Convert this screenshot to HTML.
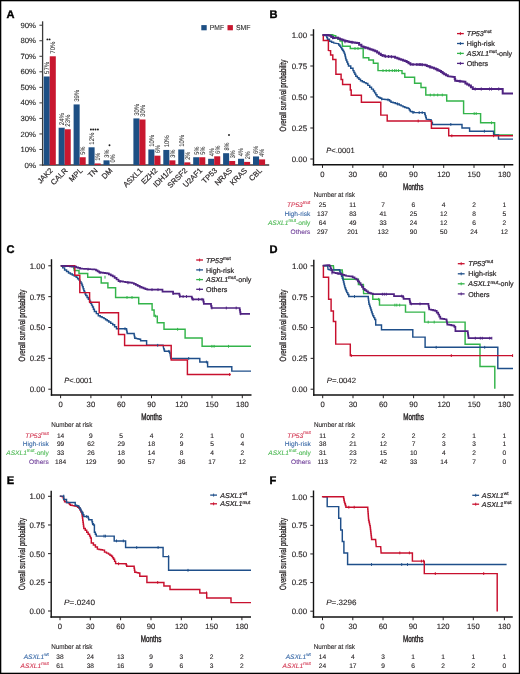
<!DOCTYPE html>
<html><head><meta charset="utf-8"><style>
html,body{margin:0;padding:0;background:#fff;width:520px;height:674px;overflow:hidden;}
svg{display:block;will-change:transform;text-rendering:geometricPrecision;font-family:"Liberation Sans", sans-serif;}
</style></head><body>
<svg width="520" height="674" viewBox="0 0 520 674" font-family="Liberation Sans, sans-serif">
<rect x="0" y="0" width="520" height="674" fill="#000"/>
<rect x="1.3" y="1.3" width="517.5" height="671.4" fill="#fff"/>
<text x="6.6" y="17.5" font-size="11.1" fill="#000" font-weight="bold" stroke="#000" stroke-width="0.35">A</text>
<text x="269.5" y="17.5" font-size="11.1" fill="#000" font-weight="bold" stroke="#000" stroke-width="0.35">B</text>
<text x="6.6" y="253.3" font-size="11.1" fill="#000" font-weight="bold" stroke="#000" stroke-width="0.35">C</text>
<text x="269.5" y="253.3" font-size="11.1" fill="#000" font-weight="bold" stroke="#000" stroke-width="0.35">D</text>
<text x="6.8" y="483.9" font-size="11.1" fill="#000" font-weight="bold" stroke="#000" stroke-width="0.35">E</text>
<text x="269.5" y="483.9" font-size="11.1" fill="#000" font-weight="bold" stroke="#000" stroke-width="0.35">F</text>
<line x1="42.6" y1="21.3" x2="42.6" y2="165.6" stroke="#3a3a3a" stroke-width="1.3"/>
<line x1="42" y1="165" x2="269.2" y2="165" stroke="#3a3a3a" stroke-width="1.3"/>
<line x1="39.4" y1="165" x2="42.6" y2="165" stroke="#3a3a3a" stroke-width="1"/>
<text x="35.9" y="167.6" font-size="7.5" fill="#222" text-anchor="end" textLength="11.4" lengthAdjust="spacingAndGlyphs" stroke="#222" stroke-width="0.1">0%</text>
<line x1="39.4" y1="149.47" x2="42.6" y2="149.47" stroke="#3a3a3a" stroke-width="1"/>
<text x="35.9" y="152.07" font-size="7.5" fill="#222" text-anchor="end" textLength="15.5" lengthAdjust="spacingAndGlyphs" stroke="#222" stroke-width="0.1">10%</text>
<line x1="39.4" y1="133.94" x2="42.6" y2="133.94" stroke="#3a3a3a" stroke-width="1"/>
<text x="35.9" y="136.54" font-size="7.5" fill="#222" text-anchor="end" textLength="15.5" lengthAdjust="spacingAndGlyphs" stroke="#222" stroke-width="0.1">20%</text>
<line x1="39.4" y1="118.41" x2="42.6" y2="118.41" stroke="#3a3a3a" stroke-width="1"/>
<text x="35.9" y="121.01" font-size="7.5" fill="#222" text-anchor="end" textLength="15.5" lengthAdjust="spacingAndGlyphs" stroke="#222" stroke-width="0.1">30%</text>
<line x1="39.4" y1="102.88" x2="42.6" y2="102.88" stroke="#3a3a3a" stroke-width="1"/>
<text x="35.9" y="105.48" font-size="7.5" fill="#222" text-anchor="end" textLength="15.5" lengthAdjust="spacingAndGlyphs" stroke="#222" stroke-width="0.1">40%</text>
<line x1="39.4" y1="87.35" x2="42.6" y2="87.35" stroke="#3a3a3a" stroke-width="1"/>
<text x="35.9" y="89.95" font-size="7.5" fill="#222" text-anchor="end" textLength="15.5" lengthAdjust="spacingAndGlyphs" stroke="#222" stroke-width="0.1">50%</text>
<line x1="39.4" y1="71.82" x2="42.6" y2="71.82" stroke="#3a3a3a" stroke-width="1"/>
<text x="35.9" y="74.42" font-size="7.5" fill="#222" text-anchor="end" textLength="15.5" lengthAdjust="spacingAndGlyphs" stroke="#222" stroke-width="0.1">60%</text>
<line x1="39.4" y1="56.29" x2="42.6" y2="56.29" stroke="#3a3a3a" stroke-width="1"/>
<text x="35.9" y="58.89" font-size="7.5" fill="#222" text-anchor="end" textLength="15.5" lengthAdjust="spacingAndGlyphs" stroke="#222" stroke-width="0.1">70%</text>
<line x1="39.4" y1="40.76" x2="42.6" y2="40.76" stroke="#3a3a3a" stroke-width="1"/>
<text x="35.9" y="43.36" font-size="7.5" fill="#222" text-anchor="end" textLength="15.5" lengthAdjust="spacingAndGlyphs" stroke="#222" stroke-width="0.1">80%</text>
<line x1="39.4" y1="25.23" x2="42.6" y2="25.23" stroke="#3a3a3a" stroke-width="1"/>
<text x="35.9" y="27.83" font-size="7.5" fill="#222" text-anchor="end" textLength="15.5" lengthAdjust="spacingAndGlyphs" stroke="#222" stroke-width="0.1">90%</text>
<rect x="43.7" y="76.48" width="6.05" height="88.52" fill="#1d4f84"/>
<rect x="49.75" y="56.29" width="6.05" height="108.71" fill="#c8172f"/>
<text transform="translate(49.12 73.88) rotate(-90)" font-size="6.8" fill="#333" stroke="#333" stroke-width="0.06" textLength="12" lengthAdjust="spacingAndGlyphs">57%</text>
<text transform="translate(55.18 53.69) rotate(-90)" font-size="6.8" fill="#333" stroke="#333" stroke-width="0.06" textLength="12" lengthAdjust="spacingAndGlyphs">70%</text>
<text transform="translate(53.25 171.1) rotate(-45)" font-size="7.6" fill="#231f20" stroke="#231f20" stroke-width="0.18" text-anchor="end">JAK2</text>
<rect x="58.65" y="127.73" width="6.05" height="37.27" fill="#1d4f84"/>
<rect x="64.7" y="129.28" width="6.05" height="35.72" fill="#c8172f"/>
<text transform="translate(64.08 125.13) rotate(-90)" font-size="6.8" fill="#333" stroke="#333" stroke-width="0.06" textLength="12" lengthAdjust="spacingAndGlyphs">24%</text>
<text transform="translate(70.13 126.68) rotate(-90)" font-size="6.8" fill="#333" stroke="#333" stroke-width="0.06" textLength="12" lengthAdjust="spacingAndGlyphs">23%</text>
<text transform="translate(68.2 171.1) rotate(-45)" font-size="7.6" fill="#231f20" stroke="#231f20" stroke-width="0.18" text-anchor="end">CALR</text>
<rect x="73.6" y="104.43" width="6.05" height="60.57" fill="#1d4f84"/>
<rect x="79.65" y="157.24" width="6.05" height="7.76" fill="#c8172f"/>
<text transform="translate(79.03 101.83) rotate(-90)" font-size="6.8" fill="#333" stroke="#333" stroke-width="0.06" textLength="12" lengthAdjust="spacingAndGlyphs">39%</text>
<text transform="translate(85.08 154.64) rotate(-90)" font-size="6.8" fill="#333" stroke="#333" stroke-width="0.06" textLength="8.1" lengthAdjust="spacingAndGlyphs">5%</text>
<text transform="translate(83.15 171.1) rotate(-45)" font-size="7.6" fill="#231f20" stroke="#231f20" stroke-width="0.18" text-anchor="end">MPL</text>
<rect x="88.55" y="147.3" width="6.05" height="17.7" fill="#1d4f84"/>
<rect x="94.6" y="163.45" width="6.05" height="1.55" fill="#c8172f"/>
<text transform="translate(93.98 144.7) rotate(-90)" font-size="6.8" fill="#333" stroke="#333" stroke-width="0.06" textLength="12" lengthAdjust="spacingAndGlyphs">12%</text>
<text transform="translate(100.03 160.85) rotate(-90)" font-size="6.8" fill="#333" stroke="#333" stroke-width="0.06" textLength="8.1" lengthAdjust="spacingAndGlyphs">1%</text>
<text transform="translate(98.1 171.1) rotate(-45)" font-size="7.6" fill="#231f20" stroke="#231f20" stroke-width="0.18" text-anchor="end">TN</text>
<rect x="103.5" y="160.34" width="6.05" height="4.66" fill="#1d4f84"/>
<rect x="109.55" y="165" width="6.05" height="0" fill="#c8172f"/>
<text transform="translate(108.93 157.74) rotate(-90)" font-size="6.8" fill="#333" stroke="#333" stroke-width="0.06" textLength="8.1" lengthAdjust="spacingAndGlyphs">3%</text>
<text transform="translate(114.98 162.4) rotate(-90)" font-size="6.8" fill="#333" stroke="#333" stroke-width="0.06" textLength="8.1" lengthAdjust="spacingAndGlyphs">0%</text>
<text transform="translate(113.05 171.1) rotate(-45)" font-size="7.6" fill="#231f20" stroke="#231f20" stroke-width="0.18" text-anchor="end">DM</text>
<rect x="133.4" y="118.41" width="6.05" height="46.59" fill="#1d4f84"/>
<rect x="139.45" y="119.5" width="6.05" height="45.5" fill="#c8172f"/>
<text transform="translate(138.82 115.81) rotate(-90)" font-size="6.8" fill="#333" stroke="#333" stroke-width="0.06" textLength="12" lengthAdjust="spacingAndGlyphs">30%</text>
<text transform="translate(144.87 116.9) rotate(-90)" font-size="6.8" fill="#333" stroke="#333" stroke-width="0.06" textLength="12" lengthAdjust="spacingAndGlyphs">30%</text>
<text transform="translate(142.95 171.1) rotate(-45)" font-size="7.6" fill="#231f20" stroke="#231f20" stroke-width="0.18" text-anchor="end">ASXL1</text>
<rect x="148.35" y="149.47" width="6.05" height="15.53" fill="#1d4f84"/>
<rect x="154.4" y="155.68" width="6.05" height="9.32" fill="#c8172f"/>
<text transform="translate(153.78 146.87) rotate(-90)" font-size="6.8" fill="#333" stroke="#333" stroke-width="0.06" textLength="12" lengthAdjust="spacingAndGlyphs">10%</text>
<text transform="translate(159.82 153.08) rotate(-90)" font-size="6.8" fill="#333" stroke="#333" stroke-width="0.06" textLength="8.1" lengthAdjust="spacingAndGlyphs">6%</text>
<text transform="translate(157.9 171.1) rotate(-45)" font-size="7.6" fill="#231f20" stroke="#231f20" stroke-width="0.18" text-anchor="end">EZH2</text>
<rect x="163.3" y="149.94" width="6.05" height="15.06" fill="#1d4f84"/>
<rect x="169.35" y="160.34" width="6.05" height="4.66" fill="#c8172f"/>
<text transform="translate(168.73 147.34) rotate(-90)" font-size="6.8" fill="#333" stroke="#333" stroke-width="0.06" textLength="12" lengthAdjust="spacingAndGlyphs">10%</text>
<text transform="translate(174.78 157.74) rotate(-90)" font-size="6.8" fill="#333" stroke="#333" stroke-width="0.06" textLength="8.1" lengthAdjust="spacingAndGlyphs">3%</text>
<text transform="translate(172.85 171.1) rotate(-45)" font-size="7.6" fill="#231f20" stroke="#231f20" stroke-width="0.18" text-anchor="end">IDH1/2</text>
<rect x="178.25" y="149.47" width="6.05" height="15.53" fill="#1d4f84"/>
<rect x="184.3" y="162.36" width="6.05" height="2.64" fill="#c8172f"/>
<text transform="translate(183.68 146.87) rotate(-90)" font-size="6.8" fill="#333" stroke="#333" stroke-width="0.06" textLength="12" lengthAdjust="spacingAndGlyphs">10%</text>
<text transform="translate(189.72 159.76) rotate(-90)" font-size="6.8" fill="#333" stroke="#333" stroke-width="0.06" textLength="8.1" lengthAdjust="spacingAndGlyphs">2%</text>
<text transform="translate(187.8 171.1) rotate(-45)" font-size="7.6" fill="#231f20" stroke="#231f20" stroke-width="0.18" text-anchor="end">SRSF2</text>
<rect x="193.2" y="157.24" width="6.05" height="7.76" fill="#1d4f84"/>
<rect x="199.25" y="157.24" width="6.05" height="7.76" fill="#c8172f"/>
<text transform="translate(198.62 154.64) rotate(-90)" font-size="6.8" fill="#333" stroke="#333" stroke-width="0.06" textLength="8.1" lengthAdjust="spacingAndGlyphs">5%</text>
<text transform="translate(204.67 154.64) rotate(-90)" font-size="6.8" fill="#333" stroke="#333" stroke-width="0.06" textLength="8.1" lengthAdjust="spacingAndGlyphs">5%</text>
<text transform="translate(202.75 171.1) rotate(-45)" font-size="7.6" fill="#231f20" stroke="#231f20" stroke-width="0.18" text-anchor="end">U2AF1</text>
<rect x="208.15" y="158.79" width="6.05" height="6.21" fill="#1d4f84"/>
<rect x="214.2" y="156.3" width="6.05" height="8.7" fill="#c8172f"/>
<text transform="translate(213.57 156.19) rotate(-90)" font-size="6.8" fill="#333" stroke="#333" stroke-width="0.06" textLength="8.1" lengthAdjust="spacingAndGlyphs">4%</text>
<text transform="translate(219.62 153.7) rotate(-90)" font-size="6.8" fill="#333" stroke="#333" stroke-width="0.06" textLength="8.1" lengthAdjust="spacingAndGlyphs">6%</text>
<text transform="translate(217.7 171.1) rotate(-45)" font-size="7.6" fill="#231f20" stroke="#231f20" stroke-width="0.18" text-anchor="end">TP53</text>
<rect x="223.1" y="153.2" width="6.05" height="11.8" fill="#1d4f84"/>
<rect x="229.15" y="160.96" width="6.05" height="4.04" fill="#c8172f"/>
<text transform="translate(228.52 150.6) rotate(-90)" font-size="6.8" fill="#333" stroke="#333" stroke-width="0.06" textLength="8.1" lengthAdjust="spacingAndGlyphs">8%</text>
<text transform="translate(234.57 158.36) rotate(-90)" font-size="6.8" fill="#333" stroke="#333" stroke-width="0.06" textLength="8.1" lengthAdjust="spacingAndGlyphs">3%</text>
<text transform="translate(232.65 171.1) rotate(-45)" font-size="7.6" fill="#231f20" stroke="#231f20" stroke-width="0.18" text-anchor="end">NRAS</text>
<rect x="238.05" y="158.79" width="6.05" height="6.21" fill="#1d4f84"/>
<rect x="244.1" y="161.89" width="6.05" height="3.11" fill="#c8172f"/>
<text transform="translate(243.48 156.19) rotate(-90)" font-size="6.8" fill="#333" stroke="#333" stroke-width="0.06" textLength="8.1" lengthAdjust="spacingAndGlyphs">4%</text>
<text transform="translate(249.53 159.29) rotate(-90)" font-size="6.8" fill="#333" stroke="#333" stroke-width="0.06" textLength="8.1" lengthAdjust="spacingAndGlyphs">2%</text>
<text transform="translate(247.6 171.1) rotate(-45)" font-size="7.6" fill="#231f20" stroke="#231f20" stroke-width="0.18" text-anchor="end">KRAS</text>
<rect x="253" y="156.46" width="6.05" height="8.54" fill="#1d4f84"/>
<rect x="259.05" y="159.41" width="6.05" height="5.59" fill="#c8172f"/>
<text transform="translate(258.42 153.86) rotate(-90)" font-size="6.8" fill="#333" stroke="#333" stroke-width="0.06" textLength="8.1" lengthAdjust="spacingAndGlyphs">6%</text>
<text transform="translate(264.47 156.81) rotate(-90)" font-size="6.8" fill="#333" stroke="#333" stroke-width="0.06" textLength="8.1" lengthAdjust="spacingAndGlyphs">4%</text>
<text transform="translate(262.55 171.1) rotate(-45)" font-size="7.6" fill="#231f20" stroke="#231f20" stroke-width="0.18" text-anchor="end">CBL</text>
<circle cx="47.4" cy="39.4" r="0.95" fill="#1a1a1a"/>
<circle cx="49.6" cy="39.4" r="0.95" fill="#1a1a1a"/>
<circle cx="90.9" cy="129.5" r="0.95" fill="#1a1a1a"/>
<circle cx="93.2" cy="129.5" r="0.95" fill="#1a1a1a"/>
<circle cx="95.5" cy="129.5" r="0.95" fill="#1a1a1a"/>
<circle cx="97.9" cy="129.5" r="0.95" fill="#1a1a1a"/>
<circle cx="109.5" cy="145.3" r="0.95" fill="#1a1a1a"/>
<circle cx="229" cy="135" r="0.95" fill="#1a1a1a"/>
<rect x="201.3" y="25.1" width="5.4" height="5.2" fill="#1d4f84"/>
<text x="209.8" y="30.2" font-size="7.3" fill="#333" textLength="14.2" lengthAdjust="spacingAndGlyphs" stroke="#333" stroke-width="0.12">PMF</text>
<rect x="227.5" y="25.1" width="5.4" height="5.2" fill="#c8172f"/>
<text x="236" y="30.2" font-size="7.3" fill="#333" textLength="14.6" lengthAdjust="spacingAndGlyphs" stroke="#333" stroke-width="0.12">SMF</text>
<line x1="313.5" y1="29.2" x2="313.5" y2="165.4" stroke="#111" stroke-width="1.4"/>
<line x1="312.8" y1="164.7" x2="513.3" y2="164.7" stroke="#111" stroke-width="1.4"/>
<line x1="310.3" y1="35" x2="313.5" y2="35" stroke="#231f20" stroke-width="1"/>
<text x="307.1" y="37.85" font-size="7.9" fill="#231f20" text-anchor="end" stroke="#231f20" stroke-width="0.15">1.00</text>
<line x1="310.3" y1="66" x2="313.5" y2="66" stroke="#231f20" stroke-width="1"/>
<text x="307.1" y="68.85" font-size="7.9" fill="#231f20" text-anchor="end" stroke="#231f20" stroke-width="0.15">0.75</text>
<line x1="310.3" y1="97" x2="313.5" y2="97" stroke="#231f20" stroke-width="1"/>
<text x="307.1" y="99.85" font-size="7.9" fill="#231f20" text-anchor="end" stroke="#231f20" stroke-width="0.15">0.50</text>
<line x1="310.3" y1="128" x2="313.5" y2="128" stroke="#231f20" stroke-width="1"/>
<text x="307.1" y="130.85" font-size="7.9" fill="#231f20" text-anchor="end" stroke="#231f20" stroke-width="0.15">0.25</text>
<line x1="310.3" y1="159" x2="313.5" y2="159" stroke="#231f20" stroke-width="1"/>
<text x="307.1" y="161.85" font-size="7.9" fill="#231f20" text-anchor="end" stroke="#231f20" stroke-width="0.15">0.00</text>
<line x1="322.5" y1="164.7" x2="322.5" y2="167.9" stroke="#231f20" stroke-width="1"/>
<text x="322.5" y="176.9" font-size="7.7" fill="#231f20" text-anchor="middle" stroke="#231f20" stroke-width="0.12">0</text>
<line x1="352.8" y1="164.7" x2="352.8" y2="167.9" stroke="#231f20" stroke-width="1"/>
<text x="352.8" y="176.9" font-size="7.7" fill="#231f20" text-anchor="middle" stroke="#231f20" stroke-width="0.12">30</text>
<line x1="383.1" y1="164.7" x2="383.1" y2="167.9" stroke="#231f20" stroke-width="1"/>
<text x="383.1" y="176.9" font-size="7.7" fill="#231f20" text-anchor="middle" stroke="#231f20" stroke-width="0.12">60</text>
<line x1="413.4" y1="164.7" x2="413.4" y2="167.9" stroke="#231f20" stroke-width="1"/>
<text x="413.4" y="176.9" font-size="7.7" fill="#231f20" text-anchor="middle" stroke="#231f20" stroke-width="0.12">90</text>
<line x1="443.7" y1="164.7" x2="443.7" y2="167.9" stroke="#231f20" stroke-width="1"/>
<text x="443.7" y="176.9" font-size="7.7" fill="#231f20" text-anchor="middle" stroke="#231f20" stroke-width="0.12">120</text>
<line x1="474" y1="164.7" x2="474" y2="167.9" stroke="#231f20" stroke-width="1"/>
<text x="474" y="176.9" font-size="7.7" fill="#231f20" text-anchor="middle" stroke="#231f20" stroke-width="0.12">150</text>
<line x1="504.3" y1="164.7" x2="504.3" y2="167.9" stroke="#231f20" stroke-width="1"/>
<text x="504.3" y="176.9" font-size="7.7" fill="#231f20" text-anchor="middle" stroke="#231f20" stroke-width="0.12">180</text>
<text transform="translate(286.1 95.6) rotate(-90)" font-size="9.2" fill="#231f20" stroke="#231f20" stroke-width="0.28" text-anchor="middle" textLength="72" lengthAdjust="spacingAndGlyphs">Overall survival probability</text>
<text x="413.2" y="190.2" font-size="9.4" fill="#231f20" text-anchor="middle" textLength="20.6" lengthAdjust="spacingAndGlyphs" stroke="#231f20" stroke-width="0.42">Months</text>
<path d="M322.6 35 L331.3 34.8 L332.45 34.8 L332.45 35.3 L333.6 35.3 L333.6 35.8 L335.73 35.8 L335.73 37.53 L337.87 37.53 L337.87 39.27 L340 39.27 L340 41 L342.2 41 L342.2 42.7 L342.6 46.2 L349.4 46.2 L350.3 46.2 L350.3 48.5 L362.3 48.5 L363.2 48.5 L363.2 50.7 L363.2 57.7 L368.8 57.7 L368.8 60 L373.4 60 L373.4 63.2 L378 63.2 L378 70.6 L402 70.6 L402 73.4 L404.8 73.4 L404.8 77.3 L414.6 77.3 L414.6 83.3 L421 83.3 L421 87.5 L425.8 87.5 L425.8 95 L446.7 95 L446.7 101 L463.6 101 L463.6 113.6 L480.6 113.6 L480.6 122.8 L494.6 122.8 L494.6 135 L513 135" fill="none" stroke="#33b44a" stroke-width="1.45" stroke-linejoin="miter" stroke-linecap="butt"/>
<path d="M322.6 35 L326.1 35.8 L326.8 35.8 L326.8 37.5 L327.5 37.5 L327.5 39.2 L329.5 39.2 L329.5 41.3 L331.55 41.3 L331.55 42.15 L333.6 42.15 L333.6 43 L337.6 43.6 L338.75 43.6 L338.75 44.9 L339.9 44.9 L339.9 46.2 L340.8 46.2 L340.8 47.6 L341.7 47.6 L341.7 49 L342.55 49 L342.55 50.2 L343.4 50.2 L343.4 51.4 L344.1 51.4 L344.1 53.1 L344.8 53.1 L344.8 54.8 L345.2 54.8 L345.2 56.53 L345.6 56.53 L345.6 58.27 L346 58.27 L346 60 L346.83 60 L346.83 62 L347.67 62 L347.67 64 L348.5 64 L348.5 66 L350.75 66 L350.75 68.3 L353 68.3 L353 70.6 L353.93 70.6 L353.93 72.47 L354.87 72.47 L354.87 74.33 L355.8 74.33 L355.8 76.2 L357.37 76.2 L357.37 77.73 L358.93 77.73 L358.93 79.27 L360.5 79.27 L360.5 80.8 L362.33 80.8 L362.33 81.7 L364.17 81.7 L364.17 82.6 L366 82.6 L366 83.5 L367.85 83.5 L367.85 85.35 L369.7 85.35 L369.7 87.2 L371.55 87.2 L371.55 89.1 L373.4 89.1 L373.4 91 L374.6 91 L374.6 92.87 L375.8 92.87 L375.8 94.73 L377 94.73 L377 96.6 L378.57 96.6 L378.57 97.4 L380.13 97.4 L380.13 98.2 L381.7 98.2 L381.7 99 L388.2 99.8 L389.6 99.8 L389.6 101 L391 101 L391 102.2 L393.13 102.2 L393.13 102.8 L395.27 102.8 L395.27 103.4 L397.4 103.4 L397.4 104 L399.27 104 L399.27 104.93 L401.13 104.93 L401.13 105.87 L403 105.87 L403 106.8 L404.83 106.8 L404.83 107.4 L406.67 107.4 L406.67 108 L408.5 108 L408.5 108.6 L409.4 108.6 L409.4 110 L410.3 110 L410.3 111.4 L412.2 111.4 L412.2 112 L414.1 112 L414.1 112.6 L424.3 112.6 L424.8 112.6 L424.8 114.15 L425.3 114.15 L425.3 115.7 L425.8 115.7 L425.8 117.4 L426.3 117.4 L426.3 119.1 L430.4 119.7 L431.07 119.7 L431.07 121.27 L431.73 121.27 L431.73 122.83 L432.4 122.83 L432.4 124.4 L462 124.4 L462 127.9 L469.6 127.9 L469.6 131.2 L493.6 131.2 L493.6 135 L498.5 135 L498.5 139.1 L513 139.1" fill="none" stroke="#1f4f8a" stroke-width="1.45" stroke-linejoin="miter" stroke-linecap="butt"/>
<path d="M322.6 35 L323.3 35 L323.3 40.4 L328.4 40.4 L328.4 50.4 L330.6 50.7 L330.6 54.9 L332.8 54.9 L332.8 59.5 L335.9 59.5 L335.9 74.3 L341.1 74.3 L341.1 79.5 L342.6 79.5 L342.6 84.5 L350.3 84.5 L350.3 90 L351.2 90 L351.2 95.3 L361.4 95.3 L361.4 102.2 L380.8 102.2 L380.8 115.1 L387.2 115.1 L387.2 121 L431.4 121 L431.4 128.3 L448.7 128.3 L448.7 135.8 L513 135.8" fill="none" stroke="#c8102e" stroke-width="1.45" stroke-linejoin="miter" stroke-linecap="butt"/>
<path d="M322.6 35 L326.7 34.9 L328.1 34.9 L328.1 35.35 L329.5 35.35 L329.5 35.8 L331.25 35.8 L331.25 36.95 L333 36.95 L333 38.1 L336.5 37.8 L338.2 37.8 L338.2 38.5 L339.9 38.5 L339.9 39.2 L341.65 39.2 L341.65 39.8 L343.4 39.8 L343.4 40.4 L345.4 40.4 L345.4 40.93 L347.4 40.93 L347.4 41.47 L349.4 41.47 L349.4 42 L351.25 42 L351.25 42.25 L353.1 42.25 L353.1 42.5 L354.95 42.5 L354.95 42.75 L356.8 42.75 L356.8 43 L359.1 43 L359.1 44.8 L361.4 44.8 L361.4 46.6 L363.53 46.6 L363.53 47.23 L365.67 47.23 L365.67 47.87 L367.8 47.87 L367.8 48.5 L369.65 48.5 L369.65 49.17 L371.5 49.17 L371.5 49.85 L373.35 49.85 L373.35 50.53 L375.2 50.53 L375.2 51.2 L377.07 51.2 L377.07 52.47 L378.93 52.47 L378.93 53.73 L380.8 53.73 L380.8 55 L382.65 55 L382.65 55.6 L384.5 55.6 L384.5 56.2 L392.8 56.8 L395.1 56.8 L395.1 57.7 L397.4 57.7 L397.4 58.6 L399.25 58.6 L399.25 59.2 L401.1 59.2 L401.1 59.8 L402.95 59.8 L402.95 60.4 L404.8 60.4 L404.8 61 L406.63 61 L406.63 62.07 L408.47 62.07 L408.47 63.13 L410.3 63.13 L410.3 64.2 L423.8 64.7 L425.37 64.7 L425.37 65.33 L426.93 65.33 L426.93 65.97 L428.5 65.97 L428.5 66.6 L430.33 66.6 L430.33 67.2 L432.17 67.2 L432.17 67.8 L434 67.8 L434 68.4 L435.83 68.4 L435.83 69.27 L437.67 69.27 L437.67 70.13 L439.5 70.13 L439.5 71 L441.07 71 L441.07 72.1 L442.63 72.1 L442.63 73.2 L444.2 73.2 L444.2 74.3 L446 74.3 L446 75.25 L447.8 75.25 L447.8 76.2 L454.3 77 L454.75 77 L454.75 78.9 L455.2 78.9 L455.2 80.8 L457.27 80.8 L457.27 81.03 L459.35 81.03 L459.35 81.25 L461.43 81.25 L461.43 81.47 L463.5 81.47 L463.5 81.7 L465.4 81.7 L465.4 83.5 L467.2 83.5 L467.2 84.45 L469 84.45 L469 85.4 L470.9 85.4 L470.9 87.2 L472.8 87.2 L472.8 89 L502.7 89 L502.7 93.6 L513 93.6" fill="none" stroke="#4f2382" stroke-width="2" stroke-linejoin="miter" stroke-linecap="butt"/>
<line x1="382.3" y1="54.1" x2="382.3" y2="57.1" stroke="#4f2382" stroke-width="1.1"/>
<line x1="385.4" y1="54.7" x2="385.4" y2="57.7" stroke="#4f2382" stroke-width="1.1"/>
<line x1="388.5" y1="55" x2="388.5" y2="58" stroke="#4f2382" stroke-width="1.1"/>
<line x1="391.5" y1="55.3" x2="391.5" y2="58.3" stroke="#4f2382" stroke-width="1.1"/>
<line x1="410.8" y1="62.8" x2="410.8" y2="65.8" stroke="#4f2382" stroke-width="1.1"/>
<line x1="413" y1="62.9" x2="413" y2="65.9" stroke="#4f2382" stroke-width="1.1"/>
<line x1="416.9" y1="63" x2="416.9" y2="66" stroke="#4f2382" stroke-width="1.1"/>
<line x1="419.2" y1="63.1" x2="419.2" y2="66.1" stroke="#4f2382" stroke-width="1.1"/>
<line x1="420.8" y1="63.1" x2="420.8" y2="66.1" stroke="#4f2382" stroke-width="1.1"/>
<line x1="422.3" y1="63.2" x2="422.3" y2="66.2" stroke="#4f2382" stroke-width="1.1"/>
<line x1="475.2" y1="87.5" x2="475.2" y2="90.5" stroke="#4f2382" stroke-width="1.1"/>
<line x1="481.3" y1="87.5" x2="481.3" y2="90.5" stroke="#4f2382" stroke-width="1.1"/>
<line x1="489.5" y1="87.5" x2="489.5" y2="90.5" stroke="#4f2382" stroke-width="1.1"/>
<line x1="491.5" y1="87.5" x2="491.5" y2="90.5" stroke="#4f2382" stroke-width="1.1"/>
<line x1="498.7" y1="87.5" x2="498.7" y2="90.5" stroke="#4f2382" stroke-width="1.1"/>
<line x1="345" y1="40.3" x2="345" y2="43.3" stroke="#4f2382" stroke-width="1.1"/>
<line x1="352" y1="40.8" x2="352" y2="43.8" stroke="#4f2382" stroke-width="1.1"/>
<line x1="365" y1="46.3" x2="365" y2="49.3" stroke="#4f2382" stroke-width="1.1"/>
<line x1="430" y1="65.5" x2="430" y2="68.5" stroke="#4f2382" stroke-width="1.1"/>
<line x1="437" y1="68.3" x2="437" y2="71.3" stroke="#4f2382" stroke-width="1.1"/>
<line x1="460" y1="79.8" x2="460" y2="82.8" stroke="#4f2382" stroke-width="1.1"/>
<line x1="383" y1="69.2" x2="383" y2="72" stroke="#33b44a" stroke-width="1"/>
<line x1="386.2" y1="69.2" x2="386.2" y2="72" stroke="#33b44a" stroke-width="1"/>
<line x1="389.2" y1="69.2" x2="389.2" y2="72" stroke="#33b44a" stroke-width="1"/>
<line x1="392.3" y1="69.2" x2="392.3" y2="72" stroke="#33b44a" stroke-width="1"/>
<line x1="394.6" y1="69.2" x2="394.6" y2="72" stroke="#33b44a" stroke-width="1"/>
<line x1="396.2" y1="69.2" x2="396.2" y2="72" stroke="#33b44a" stroke-width="1"/>
<line x1="398.5" y1="69.2" x2="398.5" y2="72" stroke="#33b44a" stroke-width="1"/>
<line x1="430.3" y1="93.6" x2="430.3" y2="96.4" stroke="#33b44a" stroke-width="1"/>
<line x1="434" y1="93.6" x2="434" y2="96.4" stroke="#33b44a" stroke-width="1"/>
<line x1="437.7" y1="93.6" x2="437.7" y2="96.4" stroke="#33b44a" stroke-width="1"/>
<line x1="442.3" y1="93.6" x2="442.3" y2="96.4" stroke="#33b44a" stroke-width="1"/>
<line x1="474.2" y1="112.2" x2="474.2" y2="115" stroke="#33b44a" stroke-width="1"/>
<line x1="476.2" y1="112.2" x2="476.2" y2="115" stroke="#33b44a" stroke-width="1"/>
<line x1="491.5" y1="121.4" x2="491.5" y2="124.2" stroke="#33b44a" stroke-width="1"/>
<line x1="355" y1="47.1" x2="355" y2="49.9" stroke="#33b44a" stroke-width="1"/>
<line x1="358" y1="47.1" x2="358" y2="49.9" stroke="#33b44a" stroke-width="1"/>
<line x1="413" y1="111.2" x2="413" y2="114" stroke="#1f4f8a" stroke-width="1"/>
<line x1="419.2" y1="111.2" x2="419.2" y2="114" stroke="#1f4f8a" stroke-width="1"/>
<line x1="422.2" y1="111.2" x2="422.2" y2="114" stroke="#1f4f8a" stroke-width="1"/>
<line x1="450.8" y1="123" x2="450.8" y2="125.8" stroke="#1f4f8a" stroke-width="1"/>
<line x1="484.4" y1="129.8" x2="484.4" y2="132.6" stroke="#1f4f8a" stroke-width="1"/>
<line x1="381.7" y1="97.6" x2="381.7" y2="100.4" stroke="#1f4f8a" stroke-width="1"/>
<line x1="388" y1="98.4" x2="388" y2="101.2" stroke="#1f4f8a" stroke-width="1"/>
<line x1="397.4" y1="102.6" x2="397.4" y2="105.4" stroke="#1f4f8a" stroke-width="1"/>
<line x1="418.2" y1="119.6" x2="418.2" y2="122.4" stroke="#c8102e" stroke-width="1"/>
<line x1="451.8" y1="134.4" x2="451.8" y2="137.2" stroke="#c8102e" stroke-width="1"/>
<line x1="493.6" y1="134.4" x2="493.6" y2="137.2" stroke="#c8102e" stroke-width="1"/>
<line x1="457" y1="33.6" x2="463.8" y2="33.6" stroke="#c8102e" stroke-width="1.3"/>
<line x1="460.4" y1="32.1" x2="460.4" y2="35.1" stroke="#c8102e" stroke-width="0.9"/>
<text x="466.8" y="36.2" font-size="7.1" fill="#231f20" stroke="#231f20" stroke-width="0.2"><tspan font-style="italic">TP53</tspan><tspan font-size="4.7" dy="-2.9">mut</tspan></text>
<line x1="457" y1="43.5" x2="463.8" y2="43.5" stroke="#1f4f8a" stroke-width="1.3"/>
<line x1="460.4" y1="42" x2="460.4" y2="45" stroke="#1f4f8a" stroke-width="0.9"/>
<text x="466.8" y="46.1" font-size="7.1" fill="#231f20" stroke="#231f20" stroke-width="0.2">High-risk</text>
<line x1="457" y1="53.4" x2="463.8" y2="53.4" stroke="#33b44a" stroke-width="1.3"/>
<line x1="460.4" y1="51.9" x2="460.4" y2="54.9" stroke="#33b44a" stroke-width="0.9"/>
<text x="466.8" y="56" font-size="7.1" fill="#231f20" stroke="#231f20" stroke-width="0.2"><tspan font-style="italic">ASXL1</tspan><tspan font-size="4.7" dy="-2.9">mut</tspan><tspan dy="2.9">-only</tspan></text>
<line x1="457" y1="63.4" x2="463.8" y2="63.4" stroke="#4f2382" stroke-width="1.3"/>
<line x1="460.4" y1="61.9" x2="460.4" y2="64.9" stroke="#4f2382" stroke-width="0.9"/>
<text x="466.8" y="66" font-size="7.1" fill="#231f20" stroke="#231f20" stroke-width="0.2">Others</text>
<text x="326.3" y="152.8" textLength="28.3" lengthAdjust="spacingAndGlyphs" font-size="7.5" fill="#231f20" stroke="#231f20" stroke-width="0.1"><tspan font-style="italic">P</tspan>&lt;.0001</text>
<text x="313.8" y="196.7" font-size="6.8" fill="#231f20" textLength="41.2" lengthAdjust="spacingAndGlyphs" stroke="#231f20" stroke-width="0.1">Number at risk</text>
<text x="310.4" y="207.1" font-size="6.6" fill="#d23550" stroke="#d23550" stroke-width="0.1" text-anchor="end"><tspan font-style="italic">TP53</tspan><tspan font-size="4.6" dy="-3.2">mut</tspan></text>
<text x="322.5" y="207.1" font-size="6.6" fill="#231f20" text-anchor="middle" stroke="#231f20" stroke-width="0.12">25</text>
<text x="352.8" y="207.1" font-size="6.6" fill="#231f20" text-anchor="middle" stroke="#231f20" stroke-width="0.12">11</text>
<text x="383.1" y="207.1" font-size="6.6" fill="#231f20" text-anchor="middle" stroke="#231f20" stroke-width="0.12">7</text>
<text x="413.4" y="207.1" font-size="6.6" fill="#231f20" text-anchor="middle" stroke="#231f20" stroke-width="0.12">6</text>
<text x="443.7" y="207.1" font-size="6.6" fill="#231f20" text-anchor="middle" stroke="#231f20" stroke-width="0.12">4</text>
<text x="474" y="207.1" font-size="6.6" fill="#231f20" text-anchor="middle" stroke="#231f20" stroke-width="0.12">2</text>
<text x="504.3" y="207.1" font-size="6.6" fill="#231f20" text-anchor="middle" stroke="#231f20" stroke-width="0.12">1</text>
<text x="310.4" y="215.9" font-size="6.6" fill="#3868a6" stroke="#3868a6" stroke-width="0.1" text-anchor="end">High-risk</text>
<text x="322.5" y="215.9" font-size="6.6" fill="#231f20" text-anchor="middle" stroke="#231f20" stroke-width="0.12">137</text>
<text x="352.8" y="215.9" font-size="6.6" fill="#231f20" text-anchor="middle" stroke="#231f20" stroke-width="0.12">83</text>
<text x="383.1" y="215.9" font-size="6.6" fill="#231f20" text-anchor="middle" stroke="#231f20" stroke-width="0.12">41</text>
<text x="413.4" y="215.9" font-size="6.6" fill="#231f20" text-anchor="middle" stroke="#231f20" stroke-width="0.12">25</text>
<text x="443.7" y="215.9" font-size="6.6" fill="#231f20" text-anchor="middle" stroke="#231f20" stroke-width="0.12">12</text>
<text x="474" y="215.9" font-size="6.6" fill="#231f20" text-anchor="middle" stroke="#231f20" stroke-width="0.12">8</text>
<text x="504.3" y="215.9" font-size="6.6" fill="#231f20" text-anchor="middle" stroke="#231f20" stroke-width="0.12">5</text>
<text x="310.4" y="224.7" font-size="6.6" fill="#4bb852" stroke="#4bb852" stroke-width="0.1" text-anchor="end"><tspan font-style="italic">ASXL1</tspan><tspan font-size="4.6" dy="-3.2">mut</tspan><tspan dy="3.2">-only</tspan></text>
<text x="322.5" y="224.7" font-size="6.6" fill="#231f20" text-anchor="middle" stroke="#231f20" stroke-width="0.12">64</text>
<text x="352.8" y="224.7" font-size="6.6" fill="#231f20" text-anchor="middle" stroke="#231f20" stroke-width="0.12">49</text>
<text x="383.1" y="224.7" font-size="6.6" fill="#231f20" text-anchor="middle" stroke="#231f20" stroke-width="0.12">33</text>
<text x="413.4" y="224.7" font-size="6.6" fill="#231f20" text-anchor="middle" stroke="#231f20" stroke-width="0.12">24</text>
<text x="443.7" y="224.7" font-size="6.6" fill="#231f20" text-anchor="middle" stroke="#231f20" stroke-width="0.12">12</text>
<text x="474" y="224.7" font-size="6.6" fill="#231f20" text-anchor="middle" stroke="#231f20" stroke-width="0.12">6</text>
<text x="504.3" y="224.7" font-size="6.6" fill="#231f20" text-anchor="middle" stroke="#231f20" stroke-width="0.12">2</text>
<text x="310.4" y="233.5" font-size="6.6" fill="#70409a" stroke="#70409a" stroke-width="0.1" text-anchor="end">Others</text>
<text x="322.5" y="233.5" font-size="6.6" fill="#231f20" text-anchor="middle" stroke="#231f20" stroke-width="0.12">297</text>
<text x="352.8" y="233.5" font-size="6.6" fill="#231f20" text-anchor="middle" stroke="#231f20" stroke-width="0.12">201</text>
<text x="383.1" y="233.5" font-size="6.6" fill="#231f20" text-anchor="middle" stroke="#231f20" stroke-width="0.12">132</text>
<text x="413.4" y="233.5" font-size="6.6" fill="#231f20" text-anchor="middle" stroke="#231f20" stroke-width="0.12">90</text>
<text x="443.7" y="233.5" font-size="6.6" fill="#231f20" text-anchor="middle" stroke="#231f20" stroke-width="0.12">50</text>
<text x="474" y="233.5" font-size="6.6" fill="#231f20" text-anchor="middle" stroke="#231f20" stroke-width="0.12">24</text>
<text x="504.3" y="233.5" font-size="6.6" fill="#231f20" text-anchor="middle" stroke="#231f20" stroke-width="0.12">12</text>
<line x1="51.5" y1="259.2" x2="51.5" y2="395.7" stroke="#111" stroke-width="1.4"/>
<line x1="50.8" y1="395" x2="251.5" y2="395" stroke="#111" stroke-width="1.4"/>
<line x1="48.3" y1="265.8" x2="51.5" y2="265.8" stroke="#231f20" stroke-width="1"/>
<text x="45.1" y="268.65" font-size="7.9" fill="#231f20" text-anchor="end" stroke="#231f20" stroke-width="0.15">1.00</text>
<line x1="48.3" y1="296.65" x2="51.5" y2="296.65" stroke="#231f20" stroke-width="1"/>
<text x="45.1" y="299.5" font-size="7.9" fill="#231f20" text-anchor="end" stroke="#231f20" stroke-width="0.15">0.75</text>
<line x1="48.3" y1="327.5" x2="51.5" y2="327.5" stroke="#231f20" stroke-width="1"/>
<text x="45.1" y="330.35" font-size="7.9" fill="#231f20" text-anchor="end" stroke="#231f20" stroke-width="0.15">0.50</text>
<line x1="48.3" y1="358.35" x2="51.5" y2="358.35" stroke="#231f20" stroke-width="1"/>
<text x="45.1" y="361.2" font-size="7.9" fill="#231f20" text-anchor="end" stroke="#231f20" stroke-width="0.15">0.25</text>
<line x1="48.3" y1="389.2" x2="51.5" y2="389.2" stroke="#231f20" stroke-width="1"/>
<text x="45.1" y="392.05" font-size="7.9" fill="#231f20" text-anchor="end" stroke="#231f20" stroke-width="0.15">0.00</text>
<line x1="60.6" y1="395" x2="60.6" y2="398.2" stroke="#231f20" stroke-width="1"/>
<text x="60.6" y="407" font-size="7.7" fill="#231f20" text-anchor="middle" stroke="#231f20" stroke-width="0.12">0</text>
<line x1="90.9" y1="395" x2="90.9" y2="398.2" stroke="#231f20" stroke-width="1"/>
<text x="90.9" y="407" font-size="7.7" fill="#231f20" text-anchor="middle" stroke="#231f20" stroke-width="0.12">30</text>
<line x1="121.2" y1="395" x2="121.2" y2="398.2" stroke="#231f20" stroke-width="1"/>
<text x="121.2" y="407" font-size="7.7" fill="#231f20" text-anchor="middle" stroke="#231f20" stroke-width="0.12">60</text>
<line x1="151.5" y1="395" x2="151.5" y2="398.2" stroke="#231f20" stroke-width="1"/>
<text x="151.5" y="407" font-size="7.7" fill="#231f20" text-anchor="middle" stroke="#231f20" stroke-width="0.12">90</text>
<line x1="181.7" y1="395" x2="181.7" y2="398.2" stroke="#231f20" stroke-width="1"/>
<text x="181.7" y="407" font-size="7.7" fill="#231f20" text-anchor="middle" stroke="#231f20" stroke-width="0.12">120</text>
<line x1="212" y1="395" x2="212" y2="398.2" stroke="#231f20" stroke-width="1"/>
<text x="212" y="407" font-size="7.7" fill="#231f20" text-anchor="middle" stroke="#231f20" stroke-width="0.12">150</text>
<line x1="242.3" y1="395" x2="242.3" y2="398.2" stroke="#231f20" stroke-width="1"/>
<text x="242.3" y="407" font-size="7.7" fill="#231f20" text-anchor="middle" stroke="#231f20" stroke-width="0.12">180</text>
<text transform="translate(24.9 325.6) rotate(-90)" font-size="9.2" fill="#231f20" stroke="#231f20" stroke-width="0.28" text-anchor="middle" textLength="72" lengthAdjust="spacingAndGlyphs">Overall survival probability</text>
<text x="151.6" y="419.8" font-size="9.4" fill="#231f20" text-anchor="middle" textLength="20.6" lengthAdjust="spacingAndGlyphs" stroke="#231f20" stroke-width="0.42">Months</text>
<path d="M60.8 265.8 L73.3 266.5 L73.75 266.5 L73.75 268.5 L74.2 268.5 L74.2 270.5 L79 270.5 L79 273.4 L87.7 273.4 L87.7 277.2 L101.2 277.2 L101.2 283 L107.9 283 L107.9 287.8 L115.6 287.8 L115.6 297.4 L138.7 297.4 L138.7 303.7 L152.1 303.7 L152.1 310 L154.1 310 L154.1 316.1 L157.3 316.1 L157.3 322.7 L164 322.7 L164 329.3 L185.1 329.3 L185.1 338 L202.1 338 L202.1 346.3 L251 346.3" fill="none" stroke="#33b44a" stroke-width="1.45" stroke-linejoin="miter" stroke-linecap="butt"/>
<path d="M60.8 265.8 L62.7 265.8 L62.7 267.85 L64.6 267.85 L64.6 269.9 L66.55 269.9 L66.55 271.45 L68.5 271.45 L68.5 273 L70.4 273 L70.4 273.95 L72.3 273.95 L72.3 274.9 L74.25 274.9 L74.25 276.05 L76.2 276.05 L76.2 277.2 L77.6 277.2 L77.6 278.65 L79 278.65 L79 280.1 L79.97 280.1 L79.97 281.7 L80.93 281.7 L80.93 283.3 L81.9 283.3 L81.9 284.9 L82.53 284.9 L82.53 286.83 L83.17 286.83 L83.17 288.77 L83.8 288.77 L83.8 290.7 L84.47 290.7 L84.47 292.3 L85.13 292.3 L85.13 293.9 L85.8 293.9 L85.8 295.5 L87.07 295.5 L87.07 297.43 L88.33 297.43 L88.33 299.37 L89.6 299.37 L89.6 301.3 L90.57 301.3 L90.57 303.2 L91.53 303.2 L91.53 305.1 L92.5 305.1 L92.5 307 L93.45 307 L93.45 309.25 L94.4 309.25 L94.4 311.5 L96.35 311.5 L96.35 313.6 L98.3 313.6 L98.3 315.7 L100.2 315.7 L100.2 316.67 L102.1 316.67 L102.1 317.63 L104 317.63 L104 318.6 L105.6 318.6 L105.6 319.7 L107.2 319.7 L107.2 320.8 L108.8 320.8 L108.8 321.9 L110.75 321.9 L110.75 323.35 L112.7 323.35 L112.7 324.8 L114.6 324.8 L114.6 326.75 L116.5 326.75 L116.5 328.7 L126.2 328.7 L126.53 328.7 L126.53 330.3 L126.87 330.3 L126.87 331.9 L127.2 331.9 L127.2 333.5 L133.8 333.5 L134.13 333.5 L134.13 335.1 L134.47 335.1 L134.47 336.7 L134.8 336.7 L134.8 338.3 L136.4 338.3 L136.4 338.6 L138 338.6 L138 338.9 L139.6 338.9 L139.6 339.2 L140.6 339.2 L140.6 340.8 L146.6 340.8 L146.6 345.3 L163.1 345.3 L163.7 348.7 L164.1 348.7 L164.1 350 L164.5 350 L164.5 351.3 L169.2 351.3 L169.7 351.3 L169.7 353 L170.2 353 L170.2 354.7 L170.8 358.4 L199.8 358.4 L199.8 362 L207.6 362 L207.6 366.8 L231.8 366.8 L231.8 371.1 L251 371.1" fill="none" stroke="#1f4f8a" stroke-width="1.45" stroke-linejoin="miter" stroke-linecap="butt"/>
<path d="M60.8 265.8 L74.8 265.8 L74.8 275.3 L79.8 275.3 L79.8 292.6 L89.6 292.6 L89.6 302.2 L99.2 302.2 L99.2 312.8 L118.5 312.8 L118.5 334.4 L124.6 334.4 L124.6 345.4 L171.2 345.4 L171.2 360 L187.4 360 L187.4 374.5 L230.8 374.5" fill="none" stroke="#c8102e" stroke-width="1.45" stroke-linejoin="miter" stroke-linecap="butt"/>
<path d="M60.8 265.8 L63.03 265.8 L63.03 265.95 L65.27 265.95 L65.27 266.1 L67.5 266.1 L67.5 266.25 L69.73 266.25 L69.73 266.4 L71.97 266.4 L71.97 266.55 L74.2 266.55 L74.2 266.7 L76.13 266.7 L76.13 267.33 L78.07 267.33 L78.07 267.97 L80 267.97 L80 268.6 L82.06 268.6 L82.06 268.73 L84.11 268.73 L84.11 268.86 L86.17 268.86 L86.17 268.99 L88.23 268.99 L88.23 269.11 L90.29 269.11 L90.29 269.24 L92.34 269.24 L92.34 269.37 L94.4 269.37 L94.4 269.5 L96 269.5 L96 270.47 L97.6 270.47 L97.6 271.43 L99.2 271.43 L99.2 272.4 L101.12 272.4 L101.12 272.65 L103.05 272.65 L103.05 272.9 L104.98 272.9 L104.98 273.15 L106.9 273.15 L106.9 273.4 L108.83 273.4 L108.83 274.37 L110.77 274.37 L110.77 275.33 L112.7 275.33 L112.7 276.3 L114.63 276.3 L114.63 277.9 L116.57 277.9 L116.57 279.5 L118.5 279.5 L118.5 281.1 L120.73 281.1 L120.73 281.42 L122.97 281.42 L122.97 281.73 L125.2 281.73 L125.2 282.05 L127.43 282.05 L127.43 282.37 L129.67 282.37 L129.67 282.68 L131.9 282.68 L131.9 283 L133.83 283 L133.83 283.97 L135.77 283.97 L135.77 284.93 L137.7 284.93 L137.7 285.9 L139.63 285.9 L139.63 286.73 L141.57 286.73 L141.57 287.57 L143.5 287.57 L143.5 288.4 L145.4 288.4 L145.4 289.05 L147.3 289.05 L147.3 289.7 L161.5 289.7 L162.5 289.7 L162.5 291.7 L171.2 291.7 L173.1 291.7 L173.1 293.6 L179 293.6 L179.4 293.6 L179.4 295.05 L179.8 295.05 L179.8 296.5 L191.3 296.5 L191.8 296.5 L191.8 297.9 L192.3 297.9 L192.3 299.3 L202.9 299.3 L203.35 299.3 L203.35 301.55 L203.8 301.55 L203.8 303.8 L210.6 303.8 L211.05 303.8 L211.05 305.9 L211.5 305.9 L211.5 308 L239.4 308 L239.73 308 L239.73 309.93 L240.07 309.93 L240.07 311.87 L240.4 311.87 L240.4 313.8 L250 313.8" fill="none" stroke="#4f2382" stroke-width="1.7" stroke-linejoin="miter" stroke-linecap="butt"/>
<line x1="173.2" y1="292.2" x2="173.2" y2="295" stroke="#4f2382" stroke-width="1"/>
<line x1="179.8" y1="295.1" x2="179.8" y2="297.9" stroke="#4f2382" stroke-width="1"/>
<line x1="183.1" y1="295.1" x2="183.1" y2="297.9" stroke="#4f2382" stroke-width="1"/>
<line x1="186.5" y1="295.1" x2="186.5" y2="297.9" stroke="#4f2382" stroke-width="1"/>
<line x1="193.1" y1="297.9" x2="193.1" y2="300.7" stroke="#4f2382" stroke-width="1"/>
<line x1="198.6" y1="297.9" x2="198.6" y2="300.7" stroke="#4f2382" stroke-width="1"/>
<line x1="202" y1="297.9" x2="202" y2="300.7" stroke="#4f2382" stroke-width="1"/>
<line x1="211.9" y1="306.6" x2="211.9" y2="309.4" stroke="#4f2382" stroke-width="1"/>
<line x1="226.3" y1="306.6" x2="226.3" y2="309.4" stroke="#4f2382" stroke-width="1"/>
<line x1="236.2" y1="306.6" x2="236.2" y2="309.4" stroke="#4f2382" stroke-width="1"/>
<line x1="240.7" y1="312.4" x2="240.7" y2="315.2" stroke="#4f2382" stroke-width="1"/>
<line x1="120" y1="280.1" x2="120" y2="282.9" stroke="#4f2382" stroke-width="1"/>
<line x1="128" y1="281.4" x2="128" y2="284.2" stroke="#4f2382" stroke-width="1"/>
<line x1="140" y1="285.6" x2="140" y2="288.4" stroke="#4f2382" stroke-width="1"/>
<line x1="152" y1="288.3" x2="152" y2="291.1" stroke="#4f2382" stroke-width="1"/>
<line x1="158" y1="288.3" x2="158" y2="291.1" stroke="#4f2382" stroke-width="1"/>
<line x1="100" y1="271.2" x2="100" y2="274" stroke="#4f2382" stroke-width="1"/>
<line x1="88" y1="267.8" x2="88" y2="270.6" stroke="#4f2382" stroke-width="1"/>
<line x1="155.5" y1="314.7" x2="155.5" y2="317.5" stroke="#33b44a" stroke-width="1"/>
<line x1="177.6" y1="327.9" x2="177.6" y2="330.7" stroke="#33b44a" stroke-width="1"/>
<line x1="211.9" y1="344.9" x2="211.9" y2="347.7" stroke="#33b44a" stroke-width="1"/>
<line x1="214.1" y1="344.9" x2="214.1" y2="347.7" stroke="#33b44a" stroke-width="1"/>
<line x1="228.5" y1="344.9" x2="228.5" y2="347.7" stroke="#33b44a" stroke-width="1"/>
<line x1="105" y1="275.8" x2="105" y2="278.6" stroke="#33b44a" stroke-width="1"/>
<line x1="127" y1="296" x2="127" y2="298.8" stroke="#33b44a" stroke-width="1"/>
<line x1="132" y1="296" x2="132" y2="298.8" stroke="#33b44a" stroke-width="1"/>
<line x1="157.7" y1="343.9" x2="157.7" y2="346.7" stroke="#1f4f8a" stroke-width="1"/>
<line x1="168.8" y1="349.9" x2="168.8" y2="352.7" stroke="#1f4f8a" stroke-width="1"/>
<line x1="188.7" y1="357" x2="188.7" y2="359.8" stroke="#1f4f8a" stroke-width="1"/>
<line x1="206.4" y1="360.6" x2="206.4" y2="363.4" stroke="#1f4f8a" stroke-width="1"/>
<line x1="125" y1="327.3" x2="125" y2="330.1" stroke="#1f4f8a" stroke-width="1"/>
<line x1="229.6" y1="373.1" x2="229.6" y2="375.9" stroke="#c8102e" stroke-width="1"/>
<line x1="196.2" y1="260" x2="203" y2="260" stroke="#c8102e" stroke-width="1.3"/>
<line x1="199.6" y1="258.5" x2="199.6" y2="261.5" stroke="#c8102e" stroke-width="0.9"/>
<text x="206" y="262.6" font-size="7.1" fill="#231f20" stroke="#231f20" stroke-width="0.2"><tspan font-style="italic">TP53</tspan><tspan font-size="4.7" dy="-2.9">mut</tspan></text>
<line x1="196.2" y1="269.9" x2="203" y2="269.9" stroke="#1f4f8a" stroke-width="1.3"/>
<line x1="199.6" y1="268.4" x2="199.6" y2="271.4" stroke="#1f4f8a" stroke-width="0.9"/>
<text x="206" y="272.5" font-size="7.1" fill="#231f20" stroke="#231f20" stroke-width="0.2">High-risk</text>
<line x1="196.2" y1="279.6" x2="203" y2="279.6" stroke="#33b44a" stroke-width="1.3"/>
<line x1="199.6" y1="278.1" x2="199.6" y2="281.1" stroke="#33b44a" stroke-width="0.9"/>
<text x="206" y="282.2" font-size="7.1" fill="#231f20" stroke="#231f20" stroke-width="0.2"><tspan font-style="italic">ASXL1</tspan><tspan font-size="4.7" dy="-2.9">mut</tspan><tspan dy="2.9">-only</tspan></text>
<line x1="196.2" y1="289.3" x2="203" y2="289.3" stroke="#4f2382" stroke-width="1.3"/>
<line x1="199.6" y1="287.8" x2="199.6" y2="290.8" stroke="#4f2382" stroke-width="0.9"/>
<text x="206" y="291.9" font-size="7.1" fill="#231f20" stroke="#231f20" stroke-width="0.2">Others</text>
<text x="64.2" y="383.1" textLength="28.3" lengthAdjust="spacingAndGlyphs" font-size="7.5" fill="#231f20" stroke="#231f20" stroke-width="0.1"><tspan font-style="italic">P</tspan>&lt;.0001</text>
<text x="51.2" y="427" font-size="6.8" fill="#231f20" textLength="41.2" lengthAdjust="spacingAndGlyphs" stroke="#231f20" stroke-width="0.1">Number at risk</text>
<text x="48.8" y="437.7" font-size="6.6" fill="#d23550" stroke="#d23550" stroke-width="0.1" text-anchor="end"><tspan font-style="italic">TP53</tspan><tspan font-size="4.6" dy="-3.2">mut</tspan></text>
<text x="60.6" y="437.7" font-size="6.6" fill="#231f20" text-anchor="middle" stroke="#231f20" stroke-width="0.12">14</text>
<text x="90.9" y="437.7" font-size="6.6" fill="#231f20" text-anchor="middle" stroke="#231f20" stroke-width="0.12">9</text>
<text x="121.2" y="437.7" font-size="6.6" fill="#231f20" text-anchor="middle" stroke="#231f20" stroke-width="0.12">5</text>
<text x="151.5" y="437.7" font-size="6.6" fill="#231f20" text-anchor="middle" stroke="#231f20" stroke-width="0.12">4</text>
<text x="181.7" y="437.7" font-size="6.6" fill="#231f20" text-anchor="middle" stroke="#231f20" stroke-width="0.12">2</text>
<text x="212" y="437.7" font-size="6.6" fill="#231f20" text-anchor="middle" stroke="#231f20" stroke-width="0.12">1</text>
<text x="242.3" y="437.7" font-size="6.6" fill="#231f20" text-anchor="middle" stroke="#231f20" stroke-width="0.12">0</text>
<text x="48.8" y="446.3" font-size="6.6" fill="#3868a6" stroke="#3868a6" stroke-width="0.1" text-anchor="end">High-risk</text>
<text x="60.6" y="446.3" font-size="6.6" fill="#231f20" text-anchor="middle" stroke="#231f20" stroke-width="0.12">99</text>
<text x="90.9" y="446.3" font-size="6.6" fill="#231f20" text-anchor="middle" stroke="#231f20" stroke-width="0.12">62</text>
<text x="121.2" y="446.3" font-size="6.6" fill="#231f20" text-anchor="middle" stroke="#231f20" stroke-width="0.12">29</text>
<text x="151.5" y="446.3" font-size="6.6" fill="#231f20" text-anchor="middle" stroke="#231f20" stroke-width="0.12">18</text>
<text x="181.7" y="446.3" font-size="6.6" fill="#231f20" text-anchor="middle" stroke="#231f20" stroke-width="0.12">9</text>
<text x="212" y="446.3" font-size="6.6" fill="#231f20" text-anchor="middle" stroke="#231f20" stroke-width="0.12">5</text>
<text x="242.3" y="446.3" font-size="6.6" fill="#231f20" text-anchor="middle" stroke="#231f20" stroke-width="0.12">4</text>
<text x="48.8" y="455.2" font-size="6.6" fill="#4bb852" stroke="#4bb852" stroke-width="0.1" text-anchor="end"><tspan font-style="italic">ASXL1</tspan><tspan font-size="4.6" dy="-3.2">mut</tspan><tspan dy="3.2">-only</tspan></text>
<text x="60.6" y="455.2" font-size="6.6" fill="#231f20" text-anchor="middle" stroke="#231f20" stroke-width="0.12">33</text>
<text x="90.9" y="455.2" font-size="6.6" fill="#231f20" text-anchor="middle" stroke="#231f20" stroke-width="0.12">26</text>
<text x="121.2" y="455.2" font-size="6.6" fill="#231f20" text-anchor="middle" stroke="#231f20" stroke-width="0.12">18</text>
<text x="151.5" y="455.2" font-size="6.6" fill="#231f20" text-anchor="middle" stroke="#231f20" stroke-width="0.12">14</text>
<text x="181.7" y="455.2" font-size="6.6" fill="#231f20" text-anchor="middle" stroke="#231f20" stroke-width="0.12">8</text>
<text x="212" y="455.2" font-size="6.6" fill="#231f20" text-anchor="middle" stroke="#231f20" stroke-width="0.12">4</text>
<text x="242.3" y="455.2" font-size="6.6" fill="#231f20" text-anchor="middle" stroke="#231f20" stroke-width="0.12">2</text>
<text x="48.8" y="464.1" font-size="6.6" fill="#70409a" stroke="#70409a" stroke-width="0.1" text-anchor="end">Others</text>
<text x="60.6" y="464.1" font-size="6.6" fill="#231f20" text-anchor="middle" stroke="#231f20" stroke-width="0.12">184</text>
<text x="90.9" y="464.1" font-size="6.6" fill="#231f20" text-anchor="middle" stroke="#231f20" stroke-width="0.12">129</text>
<text x="121.2" y="464.1" font-size="6.6" fill="#231f20" text-anchor="middle" stroke="#231f20" stroke-width="0.12">90</text>
<text x="151.5" y="464.1" font-size="6.6" fill="#231f20" text-anchor="middle" stroke="#231f20" stroke-width="0.12">57</text>
<text x="181.7" y="464.1" font-size="6.6" fill="#231f20" text-anchor="middle" stroke="#231f20" stroke-width="0.12">36</text>
<text x="212" y="464.1" font-size="6.6" fill="#231f20" text-anchor="middle" stroke="#231f20" stroke-width="0.12">17</text>
<text x="242.3" y="464.1" font-size="6.6" fill="#231f20" text-anchor="middle" stroke="#231f20" stroke-width="0.12">12</text>
<line x1="313.8" y1="259.7" x2="313.8" y2="395.7" stroke="#111" stroke-width="1.4"/>
<line x1="313.1" y1="395" x2="513.5" y2="395" stroke="#111" stroke-width="1.4"/>
<line x1="310.6" y1="265.8" x2="313.8" y2="265.8" stroke="#231f20" stroke-width="1"/>
<text x="307.4" y="268.65" font-size="7.9" fill="#231f20" text-anchor="end" stroke="#231f20" stroke-width="0.15">1.00</text>
<line x1="310.6" y1="296.65" x2="313.8" y2="296.65" stroke="#231f20" stroke-width="1"/>
<text x="307.4" y="299.5" font-size="7.9" fill="#231f20" text-anchor="end" stroke="#231f20" stroke-width="0.15">0.75</text>
<line x1="310.6" y1="327.5" x2="313.8" y2="327.5" stroke="#231f20" stroke-width="1"/>
<text x="307.4" y="330.35" font-size="7.9" fill="#231f20" text-anchor="end" stroke="#231f20" stroke-width="0.15">0.50</text>
<line x1="310.6" y1="358.35" x2="313.8" y2="358.35" stroke="#231f20" stroke-width="1"/>
<text x="307.4" y="361.2" font-size="7.9" fill="#231f20" text-anchor="end" stroke="#231f20" stroke-width="0.15">0.25</text>
<line x1="310.6" y1="389.2" x2="313.8" y2="389.2" stroke="#231f20" stroke-width="1"/>
<text x="307.4" y="392.05" font-size="7.9" fill="#231f20" text-anchor="end" stroke="#231f20" stroke-width="0.15">0.00</text>
<line x1="322.7" y1="395" x2="322.7" y2="398.2" stroke="#231f20" stroke-width="1"/>
<text x="322.7" y="407" font-size="7.7" fill="#231f20" text-anchor="middle" stroke="#231f20" stroke-width="0.12">0</text>
<line x1="353" y1="395" x2="353" y2="398.2" stroke="#231f20" stroke-width="1"/>
<text x="353" y="407" font-size="7.7" fill="#231f20" text-anchor="middle" stroke="#231f20" stroke-width="0.12">30</text>
<line x1="383.3" y1="395" x2="383.3" y2="398.2" stroke="#231f20" stroke-width="1"/>
<text x="383.3" y="407" font-size="7.7" fill="#231f20" text-anchor="middle" stroke="#231f20" stroke-width="0.12">60</text>
<line x1="413.6" y1="395" x2="413.6" y2="398.2" stroke="#231f20" stroke-width="1"/>
<text x="413.6" y="407" font-size="7.7" fill="#231f20" text-anchor="middle" stroke="#231f20" stroke-width="0.12">90</text>
<line x1="443.9" y1="395" x2="443.9" y2="398.2" stroke="#231f20" stroke-width="1"/>
<text x="443.9" y="407" font-size="7.7" fill="#231f20" text-anchor="middle" stroke="#231f20" stroke-width="0.12">120</text>
<line x1="474.1" y1="395" x2="474.1" y2="398.2" stroke="#231f20" stroke-width="1"/>
<text x="474.1" y="407" font-size="7.7" fill="#231f20" text-anchor="middle" stroke="#231f20" stroke-width="0.12">150</text>
<line x1="504.3" y1="395" x2="504.3" y2="398.2" stroke="#231f20" stroke-width="1"/>
<text x="504.3" y="407" font-size="7.7" fill="#231f20" text-anchor="middle" stroke="#231f20" stroke-width="0.12">180</text>
<text transform="translate(286.1 325.6) rotate(-90)" font-size="9.2" fill="#231f20" stroke="#231f20" stroke-width="0.28" text-anchor="middle" textLength="72" lengthAdjust="spacingAndGlyphs">Overall survival probability</text>
<text x="413.6" y="419.8" font-size="9.4" fill="#231f20" text-anchor="middle" textLength="20.6" lengthAdjust="spacingAndGlyphs" stroke="#231f20" stroke-width="0.42">Months</text>
<path d="M322.8 265.7 L333.4 265.7 L333.9 270 L342 270 L342.25 270 L342.25 272.3 L342.5 272.3 L342.5 274.6 L342.75 274.6 L342.75 276.9 L343 276.9 L343 279.2 L358.4 279.2 L358.4 284.5 L363.4 284.5 L363.6 293.6 L372.8 293.6 L372.8 299.3 L379.5 299.3 L379.5 305.1 L405.5 305.1 L405.5 312.1 L424.6 312.1 L424.6 322.1 L465.1 322.1 L465.1 344.3 L480 344.3 L480 366.5 L494.8 366.5 L494.8 388.7" fill="none" stroke="#33b44a" stroke-width="1.45" stroke-linejoin="miter" stroke-linecap="butt"/>
<path d="M322.8 265.7 L327.6 265.7 L328.1 269.5 L330.5 270 L339.2 269.6 L339.65 269.6 L339.65 271 L340.1 271 L340.1 272.4 L340.85 272.4 L340.85 274.35 L341.6 274.35 L341.6 276.3 L342.3 276.3 L342.3 278.2 L343 278.2 L343 280.1 L343.48 280.1 L343.48 282.03 L343.95 282.03 L343.95 283.95 L344.42 283.95 L344.42 285.88 L344.9 285.88 L344.9 287.8 L345.53 287.8 L345.53 289.4 L346.17 289.4 L346.17 291 L346.8 291 L346.8 292.6 L347.8 292.6 L347.8 294.55 L348.8 294.55 L348.8 296.5 L368 296.5 L368.25 296.5 L368.25 298.43 L368.5 298.43 L368.5 300.35 L368.75 300.35 L368.75 302.27 L369 302.27 L369 304.2 L369.63 304.2 L369.63 306.13 L370.27 306.13 L370.27 308.07 L370.9 308.07 L370.9 310 L371.53 310 L371.53 311.9 L372.17 311.9 L372.17 313.8 L372.8 313.8 L372.8 315.7 L373.77 315.7 L373.77 317.63 L374.73 317.63 L374.73 319.57 L375.7 319.57 L375.7 321.5 L375.7 324.9 L381.5 324.9 L381.5 329.7 L412.8 329.7 L412.8 337.1 L425.1 337.1 L425.1 347.3 L497.8 347.3 L497.8 368.5 L513 368.5" fill="none" stroke="#1f4f8a" stroke-width="1.45" stroke-linejoin="miter" stroke-linecap="butt"/>
<path d="M322.8 265.7 L323.4 265.7 L323.4 277.2 L328.6 277.2 L328.6 299.3 L331.1 299.3 L331.1 310.9 L333.4 310.9 L333.4 321.5 L335.7 321.5 L335.7 344.1 L350.3 344.1 L350.3 355.6 L513 355.6" fill="none" stroke="#c8102e" stroke-width="1.45" stroke-linejoin="miter" stroke-linecap="butt"/>
<path d="M322.8 265.7 L327.6 265.2 L329.5 265.2 L329.5 266.2 L330.47 266.2 L330.47 268.27 L331.43 268.27 L331.43 270.33 L332.4 270.33 L332.4 272.4 L334 272.4 L334 272.73 L335.6 272.73 L335.6 273.07 L337.2 273.07 L337.2 273.4 L339.15 273.4 L339.15 273.85 L341.1 273.85 L341.1 274.3 L342.7 274.3 L342.7 274.8 L344.3 274.8 L344.3 275.3 L345.9 275.3 L345.9 275.8 L350.7 276.3 L352.63 276.3 L352.63 277.4 L354.57 277.4 L354.57 278.5 L356.5 278.5 L356.5 279.6 L357.9 279.6 L357.9 281.3 L359.3 281.3 L359.3 283 L360.6 283 L360.6 284.93 L361.9 284.93 L361.9 286.87 L363.2 286.87 L363.2 288.8 L364.8 288.8 L364.8 290.07 L366.4 290.07 L366.4 291.33 L368 291.33 L368 292.6 L369.6 292.6 L369.6 293.13 L371.2 293.13 L371.2 293.67 L372.8 293.67 L372.8 294.2 L393 294.2 L394 294.2 L394 296.1 L402.6 296.1 L403.1 296.1 L403.1 297.45 L403.6 297.45 L403.6 298.8 L409.3 298.8 L409.63 298.8 L409.63 300.5 L409.97 300.5 L409.97 302.2 L410.3 302.2 L410.3 303.9 L428.1 303.9 L428.47 303.9 L428.47 305.77 L428.83 305.77 L428.83 307.63 L429.2 307.63 L429.2 309.5 L431.2 309.5 L431.2 309.97 L433.2 309.97 L433.2 310.43 L435.2 310.43 L435.2 310.9 L436.7 310.9 L436.7 312.7 L438.2 312.7 L438.2 314.5 L439.25 314.5 L439.25 316.55 L440.3 316.55 L440.3 318.6 L442.3 318.6 L442.3 318.93 L444.3 318.93 L444.3 319.27 L446.3 319.27 L446.3 319.6 L446.63 319.6 L446.63 321.27 L446.97 321.27 L446.97 322.93 L447.3 322.93 L447.3 324.6 L449.33 324.6 L449.33 324.97 L451.37 324.97 L451.37 325.33 L453.4 325.33 L453.4 325.7 L454.4 325.7 L454.4 326.85 L455.4 326.85 L455.4 328 L455.4 331.2 L467.5 331.2 L467.75 331.2 L467.75 332.95 L468 332.95 L468 334.7 L468.25 334.7 L468.25 336.45 L468.5 336.45 L468.5 338.2 L491.8 338.2" fill="none" stroke="#4f2382" stroke-width="1.7" stroke-linejoin="miter" stroke-linecap="butt"/>
<line x1="382.4" y1="292.8" x2="382.4" y2="295.6" stroke="#4f2382" stroke-width="1"/>
<line x1="384.3" y1="292.8" x2="384.3" y2="295.6" stroke="#4f2382" stroke-width="1"/>
<line x1="386.3" y1="292.8" x2="386.3" y2="295.6" stroke="#4f2382" stroke-width="1"/>
<line x1="401.7" y1="294.7" x2="401.7" y2="297.5" stroke="#4f2382" stroke-width="1"/>
<line x1="411.3" y1="302.5" x2="411.3" y2="305.3" stroke="#4f2382" stroke-width="1"/>
<line x1="420" y1="302.5" x2="420" y2="305.3" stroke="#4f2382" stroke-width="1"/>
<line x1="475.3" y1="336.8" x2="475.3" y2="339.6" stroke="#4f2382" stroke-width="1"/>
<line x1="480.3" y1="336.8" x2="480.3" y2="339.6" stroke="#4f2382" stroke-width="1"/>
<line x1="482.3" y1="336.8" x2="482.3" y2="339.6" stroke="#4f2382" stroke-width="1"/>
<line x1="489.7" y1="336.8" x2="489.7" y2="339.6" stroke="#4f2382" stroke-width="1"/>
<line x1="491.8" y1="336.8" x2="491.8" y2="339.6" stroke="#4f2382" stroke-width="1"/>
<line x1="332" y1="271.6" x2="332" y2="274.4" stroke="#4f2382" stroke-width="1"/>
<line x1="338" y1="272.2" x2="338" y2="275" stroke="#4f2382" stroke-width="1"/>
<line x1="378.6" y1="297.9" x2="378.6" y2="300.7" stroke="#33b44a" stroke-width="1"/>
<line x1="394.9" y1="303.7" x2="394.9" y2="306.5" stroke="#33b44a" stroke-width="1"/>
<line x1="396.8" y1="303.7" x2="396.8" y2="306.5" stroke="#33b44a" stroke-width="1"/>
<line x1="399.7" y1="303.7" x2="399.7" y2="306.5" stroke="#33b44a" stroke-width="1"/>
<line x1="428.2" y1="320.7" x2="428.2" y2="323.5" stroke="#33b44a" stroke-width="1"/>
<line x1="434.2" y1="320.7" x2="434.2" y2="323.5" stroke="#33b44a" stroke-width="1"/>
<line x1="354.5" y1="295.1" x2="354.5" y2="297.9" stroke="#1f4f8a" stroke-width="1"/>
<line x1="436.2" y1="345.9" x2="436.2" y2="348.7" stroke="#1f4f8a" stroke-width="1"/>
<line x1="484.7" y1="345.9" x2="484.7" y2="348.7" stroke="#1f4f8a" stroke-width="1"/>
<line x1="351.3" y1="354.2" x2="351.3" y2="357" stroke="#c8102e" stroke-width="1"/>
<line x1="451.3" y1="354.2" x2="451.3" y2="357" stroke="#c8102e" stroke-width="1"/>
<line x1="512.6" y1="354.2" x2="512.6" y2="357" stroke="#c8102e" stroke-width="1"/>
<line x1="457.8" y1="263.7" x2="464.6" y2="263.7" stroke="#c8102e" stroke-width="1.3"/>
<line x1="461.2" y1="262.2" x2="461.2" y2="265.2" stroke="#c8102e" stroke-width="0.9"/>
<text x="468.3" y="266.3" font-size="7.1" fill="#231f20" stroke="#231f20" stroke-width="0.2"><tspan font-style="italic">TP53</tspan><tspan font-size="4.7" dy="-2.9">mut</tspan></text>
<line x1="457.8" y1="273.8" x2="464.6" y2="273.8" stroke="#1f4f8a" stroke-width="1.3"/>
<line x1="461.2" y1="272.3" x2="461.2" y2="275.3" stroke="#1f4f8a" stroke-width="0.9"/>
<text x="468.3" y="276.4" font-size="7.1" fill="#231f20" stroke="#231f20" stroke-width="0.2">High-risk</text>
<line x1="457.8" y1="283.8" x2="464.6" y2="283.8" stroke="#33b44a" stroke-width="1.3"/>
<line x1="461.2" y1="282.3" x2="461.2" y2="285.3" stroke="#33b44a" stroke-width="0.9"/>
<text x="468.3" y="286.4" font-size="7.1" fill="#231f20" stroke="#231f20" stroke-width="0.2"><tspan font-style="italic">ASXL1</tspan><tspan font-size="4.7" dy="-2.9">mut</tspan><tspan dy="2.9">-only</tspan></text>
<line x1="457.8" y1="293.9" x2="464.6" y2="293.9" stroke="#4f2382" stroke-width="1.3"/>
<line x1="461.2" y1="292.4" x2="461.2" y2="295.4" stroke="#4f2382" stroke-width="0.9"/>
<text x="468.3" y="296.5" font-size="7.1" fill="#231f20" stroke="#231f20" stroke-width="0.2">Others</text>
<text x="326.7" y="383.2" textLength="29.4" lengthAdjust="spacingAndGlyphs" font-size="7.6" fill="#231f20" stroke="#231f20" stroke-width="0.1"><tspan font-style="italic">P</tspan>=.0042</text>
<text x="314" y="426.8" font-size="6.8" fill="#231f20" textLength="41.2" lengthAdjust="spacingAndGlyphs" stroke="#231f20" stroke-width="0.1">Number at risk</text>
<text x="310.8" y="437.6" font-size="6.6" fill="#d23550" stroke="#d23550" stroke-width="0.1" text-anchor="end"><tspan font-style="italic">TP53</tspan><tspan font-size="4.6" dy="-3.2">mut</tspan></text>
<text x="322.7" y="437.6" font-size="6.6" fill="#231f20" text-anchor="middle" stroke="#231f20" stroke-width="0.12">11</text>
<text x="353" y="437.6" font-size="6.6" fill="#231f20" text-anchor="middle" stroke="#231f20" stroke-width="0.12">2</text>
<text x="383.3" y="437.6" font-size="6.6" fill="#231f20" text-anchor="middle" stroke="#231f20" stroke-width="0.12">2</text>
<text x="413.6" y="437.6" font-size="6.6" fill="#231f20" text-anchor="middle" stroke="#231f20" stroke-width="0.12">2</text>
<text x="443.9" y="437.6" font-size="6.6" fill="#231f20" text-anchor="middle" stroke="#231f20" stroke-width="0.12">2</text>
<text x="474.1" y="437.6" font-size="6.6" fill="#231f20" text-anchor="middle" stroke="#231f20" stroke-width="0.12">1</text>
<text x="504.3" y="437.6" font-size="6.6" fill="#231f20" text-anchor="middle" stroke="#231f20" stroke-width="0.12">1</text>
<text x="310.8" y="446.2" font-size="6.6" fill="#3868a6" stroke="#3868a6" stroke-width="0.1" text-anchor="end">High-risk</text>
<text x="322.7" y="446.2" font-size="6.6" fill="#231f20" text-anchor="middle" stroke="#231f20" stroke-width="0.12">38</text>
<text x="353" y="446.2" font-size="6.6" fill="#231f20" text-anchor="middle" stroke="#231f20" stroke-width="0.12">21</text>
<text x="383.3" y="446.2" font-size="6.6" fill="#231f20" text-anchor="middle" stroke="#231f20" stroke-width="0.12">12</text>
<text x="413.6" y="446.2" font-size="6.6" fill="#231f20" text-anchor="middle" stroke="#231f20" stroke-width="0.12">7</text>
<text x="443.9" y="446.2" font-size="6.6" fill="#231f20" text-anchor="middle" stroke="#231f20" stroke-width="0.12">3</text>
<text x="474.1" y="446.2" font-size="6.6" fill="#231f20" text-anchor="middle" stroke="#231f20" stroke-width="0.12">3</text>
<text x="504.3" y="446.2" font-size="6.6" fill="#231f20" text-anchor="middle" stroke="#231f20" stroke-width="0.12">1</text>
<text x="310.8" y="455.1" font-size="6.6" fill="#4bb852" stroke="#4bb852" stroke-width="0.1" text-anchor="end"><tspan font-style="italic">ASXL1</tspan><tspan font-size="4.6" dy="-3.2">mut</tspan><tspan dy="3.2">-only</tspan></text>
<text x="322.7" y="455.1" font-size="6.6" fill="#231f20" text-anchor="middle" stroke="#231f20" stroke-width="0.12">31</text>
<text x="353" y="455.1" font-size="6.6" fill="#231f20" text-anchor="middle" stroke="#231f20" stroke-width="0.12">23</text>
<text x="383.3" y="455.1" font-size="6.6" fill="#231f20" text-anchor="middle" stroke="#231f20" stroke-width="0.12">15</text>
<text x="413.6" y="455.1" font-size="6.6" fill="#231f20" text-anchor="middle" stroke="#231f20" stroke-width="0.12">10</text>
<text x="443.9" y="455.1" font-size="6.6" fill="#231f20" text-anchor="middle" stroke="#231f20" stroke-width="0.12">4</text>
<text x="474.1" y="455.1" font-size="6.6" fill="#231f20" text-anchor="middle" stroke="#231f20" stroke-width="0.12">2</text>
<text x="504.3" y="455.1" font-size="6.6" fill="#231f20" text-anchor="middle" stroke="#231f20" stroke-width="0.12">0</text>
<text x="310.8" y="464" font-size="6.6" fill="#70409a" stroke="#70409a" stroke-width="0.1" text-anchor="end">Others</text>
<text x="322.7" y="464" font-size="6.6" fill="#231f20" text-anchor="middle" stroke="#231f20" stroke-width="0.12">113</text>
<text x="353" y="464" font-size="6.6" fill="#231f20" text-anchor="middle" stroke="#231f20" stroke-width="0.12">72</text>
<text x="383.3" y="464" font-size="6.6" fill="#231f20" text-anchor="middle" stroke="#231f20" stroke-width="0.12">42</text>
<text x="413.6" y="464" font-size="6.6" fill="#231f20" text-anchor="middle" stroke="#231f20" stroke-width="0.12">33</text>
<text x="443.9" y="464" font-size="6.6" fill="#231f20" text-anchor="middle" stroke="#231f20" stroke-width="0.12">14</text>
<text x="474.1" y="464" font-size="6.6" fill="#231f20" text-anchor="middle" stroke="#231f20" stroke-width="0.12">7</text>
<text x="504.3" y="464" font-size="6.6" fill="#231f20" text-anchor="middle" stroke="#231f20" stroke-width="0.12">0</text>
<line x1="51.2" y1="490.8" x2="51.2" y2="617.7" stroke="#111" stroke-width="1.4"/>
<line x1="50.5" y1="617" x2="251" y2="617" stroke="#111" stroke-width="1.4"/>
<line x1="48" y1="496.3" x2="51.2" y2="496.3" stroke="#231f20" stroke-width="1"/>
<text x="44.8" y="499.15" font-size="7.9" fill="#231f20" text-anchor="end" stroke="#231f20" stroke-width="0.15">1.00</text>
<line x1="48" y1="524.98" x2="51.2" y2="524.98" stroke="#231f20" stroke-width="1"/>
<text x="44.8" y="527.83" font-size="7.9" fill="#231f20" text-anchor="end" stroke="#231f20" stroke-width="0.15">0.75</text>
<line x1="48" y1="553.65" x2="51.2" y2="553.65" stroke="#231f20" stroke-width="1"/>
<text x="44.8" y="556.5" font-size="7.9" fill="#231f20" text-anchor="end" stroke="#231f20" stroke-width="0.15">0.50</text>
<line x1="48" y1="582.33" x2="51.2" y2="582.33" stroke="#231f20" stroke-width="1"/>
<text x="44.8" y="585.18" font-size="7.9" fill="#231f20" text-anchor="end" stroke="#231f20" stroke-width="0.15">0.25</text>
<line x1="48" y1="611" x2="51.2" y2="611" stroke="#231f20" stroke-width="1"/>
<text x="44.8" y="613.85" font-size="7.9" fill="#231f20" text-anchor="end" stroke="#231f20" stroke-width="0.15">0.00</text>
<line x1="60" y1="617" x2="60" y2="620.2" stroke="#231f20" stroke-width="1"/>
<text x="60" y="628.8" font-size="7.7" fill="#231f20" text-anchor="middle" stroke="#231f20" stroke-width="0.12">0</text>
<line x1="90.3" y1="617" x2="90.3" y2="620.2" stroke="#231f20" stroke-width="1"/>
<text x="90.3" y="628.8" font-size="7.7" fill="#231f20" text-anchor="middle" stroke="#231f20" stroke-width="0.12">30</text>
<line x1="120.6" y1="617" x2="120.6" y2="620.2" stroke="#231f20" stroke-width="1"/>
<text x="120.6" y="628.8" font-size="7.7" fill="#231f20" text-anchor="middle" stroke="#231f20" stroke-width="0.12">60</text>
<line x1="151" y1="617" x2="151" y2="620.2" stroke="#231f20" stroke-width="1"/>
<text x="151" y="628.8" font-size="7.7" fill="#231f20" text-anchor="middle" stroke="#231f20" stroke-width="0.12">90</text>
<line x1="181.3" y1="617" x2="181.3" y2="620.2" stroke="#231f20" stroke-width="1"/>
<text x="181.3" y="628.8" font-size="7.7" fill="#231f20" text-anchor="middle" stroke="#231f20" stroke-width="0.12">120</text>
<line x1="211.6" y1="617" x2="211.6" y2="620.2" stroke="#231f20" stroke-width="1"/>
<text x="211.6" y="628.8" font-size="7.7" fill="#231f20" text-anchor="middle" stroke="#231f20" stroke-width="0.12">150</text>
<line x1="241.9" y1="617" x2="241.9" y2="620.2" stroke="#231f20" stroke-width="1"/>
<text x="241.9" y="628.8" font-size="7.7" fill="#231f20" text-anchor="middle" stroke="#231f20" stroke-width="0.12">180</text>
<text transform="translate(24.9 554) rotate(-90)" font-size="9.2" fill="#231f20" stroke="#231f20" stroke-width="0.28" text-anchor="middle" textLength="72" lengthAdjust="spacingAndGlyphs">Overall survival probability</text>
<text x="151.1" y="641.6" font-size="9.4" fill="#231f20" text-anchor="middle" textLength="20.6" lengthAdjust="spacingAndGlyphs" stroke="#231f20" stroke-width="0.42">Months</text>
<path d="M59.8 496.1 L62.7 496.7 L63.33 496.7 L63.33 498.4 L63.97 498.4 L63.97 500.1 L64.6 500.1 L64.6 501.8 L66.55 501.8 L66.55 502.4 L68.5 502.4 L68.5 503 L69.45 503 L69.45 504.15 L70.4 504.15 L70.4 505.3 L72.33 505.3 L72.33 505.63 L74.27 505.63 L74.27 505.97 L76.2 505.97 L76.2 506.3 L77.6 506.3 L77.6 507.25 L79 507.25 L79 508.2 L79.97 508.2 L79.97 510.13 L80.93 510.13 L80.93 512.07 L81.9 512.07 L81.9 514 L82.17 514 L82.17 516.06 L82.44 516.06 L82.44 518.11 L82.71 518.11 L82.71 520.17 L82.99 520.17 L82.99 522.23 L83.26 522.23 L83.26 524.29 L83.53 524.29 L83.53 526.34 L83.8 526.34 L83.8 528.4 L85.25 528.4 L85.25 530.3 L86.7 530.3 L86.7 532.2 L88.15 532.2 L88.15 534.15 L89.6 534.15 L89.6 536.1 L90.45 536.1 L90.45 538.05 L91.3 538.05 L91.3 540 L91.3 543 L93.4 543 L93.4 545 L95.4 545 L95.4 547.05 L97.4 547.05 L97.4 549.1 L99.1 549.1 L99.1 549.43 L100.8 549.43 L100.8 549.77 L102.5 549.77 L102.5 550.1 L104.5 550.1 L104.5 552.1 L106.5 552.1 L106.5 553.1 L108.5 553.1 L108.5 554.1 L110 554.1 L110 555.15 L111.5 555.15 L111.5 556.2 L112.55 556.2 L112.55 557.7 L113.6 557.7 L113.6 559.2 L114.6 559.2 L114.6 561.35 L115.6 561.35 L115.6 563.5 L125.7 563.8 L126.2 563.8 L126.2 565.05 L126.7 565.05 L126.7 566.3 L133.8 566.3 L134.13 566.3 L134.13 568.3 L134.47 568.3 L134.47 570.3 L134.8 570.3 L134.8 572.3 L136.47 572.3 L136.47 572.63 L138.13 572.63 L138.13 572.97 L139.8 572.97 L139.8 573.3 L139.8 576.3 L146.9 576.3 L146.9 582.4 L163.9 582.4 L163.9 586 L170 586 L170 589.5 L199.8 589.5 L199.8 592.9 L206.7 592.9 L206.7 598 L231 598 L231 602.6 L251 602.6" fill="none" stroke="#c8102e" stroke-width="1.45" stroke-linejoin="miter" stroke-linecap="butt"/>
<path d="M59.8 496.1 L63.7 496.1 L63.7 499.5 L66.5 499.5 L66.5 502.4 L75.2 502.4 L75.2 505.3 L76.65 505.3 L76.65 505.8 L78.1 505.8 L78.1 506.3 L79.05 506.3 L79.05 507.75 L80 507.75 L80 509.2 L80.95 509.2 L80.95 511.1 L81.9 511.1 L81.9 513 L82.85 513 L82.85 514.75 L83.8 514.75 L83.8 516.5 L87.7 516.5 L88.2 516.5 L88.2 518.1 L88.7 518.1 L88.7 519.7 L91.5 519.7 L92 519.7 L92 521.65 L92.5 521.65 L92.5 523.6 L93.45 523.6 L93.45 525.05 L94.4 525.05 L94.4 526.5 L94.4 532.2 L95.35 532.2 L95.35 534.15 L96.3 534.15 L96.3 536.1 L114.2 536.1 L114.2 540.9 L125.6 540.9 L125.6 547.5 L163.1 547.5 L163.1 556.6 L168.6 556.6 L168.6 570.3 L251 570.3" fill="none" stroke="#1f4f8a" stroke-width="1.45" stroke-linejoin="miter" stroke-linecap="butt"/>
<line x1="63.7" y1="494.7" x2="63.7" y2="497.5" stroke="#1f4f8a" stroke-width="1"/>
<line x1="82.9" y1="511.6" x2="82.9" y2="514.4" stroke="#1f4f8a" stroke-width="1"/>
<line x1="86.7" y1="515.1" x2="86.7" y2="517.9" stroke="#1f4f8a" stroke-width="1"/>
<line x1="92.5" y1="522.2" x2="92.5" y2="525" stroke="#1f4f8a" stroke-width="1"/>
<line x1="104" y1="534.7" x2="104" y2="537.5" stroke="#1f4f8a" stroke-width="1"/>
<line x1="105.4" y1="534.7" x2="105.4" y2="537.5" stroke="#1f4f8a" stroke-width="1"/>
<line x1="116.5" y1="539.5" x2="116.5" y2="542.3" stroke="#1f4f8a" stroke-width="1"/>
<line x1="123.3" y1="539.5" x2="123.3" y2="542.3" stroke="#1f4f8a" stroke-width="1"/>
<line x1="136.7" y1="546.1" x2="136.7" y2="548.9" stroke="#1f4f8a" stroke-width="1"/>
<line x1="158.1" y1="546.1" x2="158.1" y2="548.9" stroke="#1f4f8a" stroke-width="1"/>
<line x1="168.6" y1="555.2" x2="168.6" y2="558" stroke="#1f4f8a" stroke-width="1"/>
<line x1="188" y1="568.9" x2="188" y2="571.7" stroke="#1f4f8a" stroke-width="1"/>
<line x1="118.6" y1="562.4" x2="118.6" y2="565.2" stroke="#c8102e" stroke-width="1"/>
<line x1="157.7" y1="581" x2="157.7" y2="583.8" stroke="#c8102e" stroke-width="1"/>
<line x1="206.5" y1="591.5" x2="206.5" y2="594.3" stroke="#c8102e" stroke-width="1"/>
<line x1="210.2" y1="495.1" x2="217" y2="495.1" stroke="#1f4f8a" stroke-width="1.3"/>
<line x1="213.6" y1="493.6" x2="213.6" y2="496.6" stroke="#1f4f8a" stroke-width="0.9"/>
<text x="220.3" y="497.7" font-size="7.1" fill="#231f20" stroke="#231f20" stroke-width="0.2"><tspan font-style="italic">ASXL1</tspan><tspan font-size="4.7" dy="-2.9">wt</tspan></text>
<line x1="210.2" y1="503.8" x2="217" y2="503.8" stroke="#c8102e" stroke-width="1.3"/>
<line x1="213.6" y1="502.3" x2="213.6" y2="505.3" stroke="#c8102e" stroke-width="0.9"/>
<text x="220.3" y="506.4" font-size="7.1" fill="#231f20" stroke="#231f20" stroke-width="0.2"><tspan font-style="italic">ASXL1</tspan><tspan font-size="4.7" dy="-2.9">mut</tspan></text>
<text x="64.1" y="604.6" textLength="30.9" lengthAdjust="spacingAndGlyphs" font-size="7.7" fill="#231f20" stroke="#231f20" stroke-width="0.1"><tspan font-style="italic">P</tspan>=.0240</text>
<text x="51.2" y="649" font-size="6.8" fill="#231f20" textLength="41.2" lengthAdjust="spacingAndGlyphs" stroke="#231f20" stroke-width="0.1">Number at risk</text>
<text x="48.8" y="659.1" font-size="6.6" fill="#3868a6" stroke="#3868a6" stroke-width="0.1" text-anchor="end"><tspan font-style="italic">ASXL1</tspan><tspan font-size="4.6" dy="-3.2">wt</tspan></text>
<text x="60" y="659.1" font-size="6.6" fill="#231f20" text-anchor="middle" stroke="#231f20" stroke-width="0.12">38</text>
<text x="90.3" y="659.1" font-size="6.6" fill="#231f20" text-anchor="middle" stroke="#231f20" stroke-width="0.12">24</text>
<text x="120.6" y="659.1" font-size="6.6" fill="#231f20" text-anchor="middle" stroke="#231f20" stroke-width="0.12">13</text>
<text x="151" y="659.1" font-size="6.6" fill="#231f20" text-anchor="middle" stroke="#231f20" stroke-width="0.12">9</text>
<text x="181.3" y="659.1" font-size="6.6" fill="#231f20" text-anchor="middle" stroke="#231f20" stroke-width="0.12">3</text>
<text x="211.6" y="659.1" font-size="6.6" fill="#231f20" text-anchor="middle" stroke="#231f20" stroke-width="0.12">2</text>
<text x="241.9" y="659.1" font-size="6.6" fill="#231f20" text-anchor="middle" stroke="#231f20" stroke-width="0.12">2</text>
<text x="48.8" y="667.9" font-size="6.6" fill="#d23550" stroke="#d23550" stroke-width="0.1" text-anchor="end"><tspan font-style="italic">ASXL1</tspan><tspan font-size="4.6" dy="-3.2">mut</tspan></text>
<text x="60" y="667.9" font-size="6.6" fill="#231f20" text-anchor="middle" stroke="#231f20" stroke-width="0.12">61</text>
<text x="90.3" y="667.9" font-size="6.6" fill="#231f20" text-anchor="middle" stroke="#231f20" stroke-width="0.12">38</text>
<text x="120.6" y="667.9" font-size="6.6" fill="#231f20" text-anchor="middle" stroke="#231f20" stroke-width="0.12">16</text>
<text x="151" y="667.9" font-size="6.6" fill="#231f20" text-anchor="middle" stroke="#231f20" stroke-width="0.12">9</text>
<text x="181.3" y="667.9" font-size="6.6" fill="#231f20" text-anchor="middle" stroke="#231f20" stroke-width="0.12">6</text>
<text x="211.6" y="667.9" font-size="6.6" fill="#231f20" text-anchor="middle" stroke="#231f20" stroke-width="0.12">3</text>
<text x="241.9" y="667.9" font-size="6.6" fill="#231f20" text-anchor="middle" stroke="#231f20" stroke-width="0.12">2</text>
<line x1="313.5" y1="490.5" x2="313.5" y2="617.7" stroke="#111" stroke-width="1.4"/>
<line x1="312.8" y1="617" x2="512.8" y2="617" stroke="#111" stroke-width="1.4"/>
<line x1="310.3" y1="496.7" x2="313.5" y2="496.7" stroke="#231f20" stroke-width="1"/>
<text x="307.1" y="499.55" font-size="7.9" fill="#231f20" text-anchor="end" stroke="#231f20" stroke-width="0.15">1.00</text>
<line x1="310.3" y1="525.33" x2="313.5" y2="525.33" stroke="#231f20" stroke-width="1"/>
<text x="307.1" y="528.18" font-size="7.9" fill="#231f20" text-anchor="end" stroke="#231f20" stroke-width="0.15">0.75</text>
<line x1="310.3" y1="553.95" x2="313.5" y2="553.95" stroke="#231f20" stroke-width="1"/>
<text x="307.1" y="556.8" font-size="7.9" fill="#231f20" text-anchor="end" stroke="#231f20" stroke-width="0.15">0.50</text>
<line x1="310.3" y1="582.58" x2="313.5" y2="582.58" stroke="#231f20" stroke-width="1"/>
<text x="307.1" y="585.43" font-size="7.9" fill="#231f20" text-anchor="end" stroke="#231f20" stroke-width="0.15">0.25</text>
<line x1="310.3" y1="611.2" x2="313.5" y2="611.2" stroke="#231f20" stroke-width="1"/>
<text x="307.1" y="614.05" font-size="7.9" fill="#231f20" text-anchor="end" stroke="#231f20" stroke-width="0.15">0.00</text>
<line x1="322.5" y1="617" x2="322.5" y2="620.2" stroke="#231f20" stroke-width="1"/>
<text x="322.5" y="628.8" font-size="7.7" fill="#231f20" text-anchor="middle" stroke="#231f20" stroke-width="0.12">0</text>
<line x1="352.8" y1="617" x2="352.8" y2="620.2" stroke="#231f20" stroke-width="1"/>
<text x="352.8" y="628.8" font-size="7.7" fill="#231f20" text-anchor="middle" stroke="#231f20" stroke-width="0.12">30</text>
<line x1="383" y1="617" x2="383" y2="620.2" stroke="#231f20" stroke-width="1"/>
<text x="383" y="628.8" font-size="7.7" fill="#231f20" text-anchor="middle" stroke="#231f20" stroke-width="0.12">60</text>
<line x1="413.1" y1="617" x2="413.1" y2="620.2" stroke="#231f20" stroke-width="1"/>
<text x="413.1" y="628.8" font-size="7.7" fill="#231f20" text-anchor="middle" stroke="#231f20" stroke-width="0.12">90</text>
<line x1="443.2" y1="617" x2="443.2" y2="620.2" stroke="#231f20" stroke-width="1"/>
<text x="443.2" y="628.8" font-size="7.7" fill="#231f20" text-anchor="middle" stroke="#231f20" stroke-width="0.12">120</text>
<line x1="473.3" y1="617" x2="473.3" y2="620.2" stroke="#231f20" stroke-width="1"/>
<text x="473.3" y="628.8" font-size="7.7" fill="#231f20" text-anchor="middle" stroke="#231f20" stroke-width="0.12">150</text>
<line x1="504.4" y1="617" x2="504.4" y2="620.2" stroke="#231f20" stroke-width="1"/>
<text x="504.4" y="628.8" font-size="7.7" fill="#231f20" text-anchor="middle" stroke="#231f20" stroke-width="0.12">180</text>
<text transform="translate(286.1 554) rotate(-90)" font-size="9.2" fill="#231f20" stroke="#231f20" stroke-width="0.28" text-anchor="middle" textLength="72" lengthAdjust="spacingAndGlyphs">Overall survival probability</text>
<text x="413.2" y="641.6" font-size="9.4" fill="#231f20" text-anchor="middle" textLength="20.6" lengthAdjust="spacingAndGlyphs" stroke="#231f20" stroke-width="0.42">Months</text>
<path d="M323.1 496.7 L327.2 496.7 L327.2 506.6 L338.7 506.6 L338.7 518.3 L340.7 518.3 L340.7 530 L342.3 530 L342.3 541.5 L343.9 541.5 L343.9 553 L347.6 553 L347.6 564.5 L506.6 564.5" fill="none" stroke="#1f4f8a" stroke-width="1.45" stroke-linejoin="miter" stroke-linecap="butt"/>
<path d="M321.9 496.7 L343.3 496.7 L343.63 496.7 L343.63 498.5 L343.97 498.5 L343.97 500.3 L344.3 500.3 L344.3 502.1 L344.83 502.1 L344.83 503.8 L345.37 503.8 L345.37 505.5 L345.9 505.5 L345.9 507.2 L367.6 507.2 L367.77 507.2 L367.77 509.38 L367.93 509.38 L367.93 511.57 L368.1 511.57 L368.1 513.75 L368.27 513.75 L368.27 515.93 L368.43 515.93 L368.43 518.12 L368.6 518.12 L368.6 520.3 L369 520.3 L369 522.07 L369.4 522.07 L369.4 523.85 L369.8 523.85 L369.8 525.62 L370.2 525.62 L370.2 527.4 L370.43 527.4 L370.43 529.42 L370.67 529.42 L370.67 531.43 L370.9 531.43 L370.9 533.45 L371.13 533.45 L371.13 535.47 L371.37 535.47 L371.37 537.48 L371.6 537.48 L371.6 539.5 L375.6 539.5 L376.2 546.6 L380.7 546.6 L381.1 552.9 L412.4 552.9 L412.4 561.1 L424.3 561.1 L424.3 573.6 L497.2 573.6 L497.2 611.6" fill="none" stroke="#c8102e" stroke-width="1.45" stroke-linejoin="miter" stroke-linecap="butt"/>
<line x1="348.8" y1="505.8" x2="348.8" y2="508.6" stroke="#c8102e" stroke-width="1"/>
<line x1="354.2" y1="505.8" x2="354.2" y2="508.6" stroke="#c8102e" stroke-width="1"/>
<line x1="399.8" y1="551.5" x2="399.8" y2="554.3" stroke="#c8102e" stroke-width="1"/>
<line x1="409.4" y1="551.5" x2="409.4" y2="554.3" stroke="#c8102e" stroke-width="1"/>
<line x1="421.4" y1="559.7" x2="421.4" y2="562.5" stroke="#c8102e" stroke-width="1"/>
<line x1="423.5" y1="559.7" x2="423.5" y2="562.5" stroke="#c8102e" stroke-width="1"/>
<line x1="435.3" y1="572.2" x2="435.3" y2="575" stroke="#c8102e" stroke-width="1"/>
<line x1="483.7" y1="572.2" x2="483.7" y2="575" stroke="#c8102e" stroke-width="1"/>
<line x1="371.5" y1="563.1" x2="371.5" y2="565.9" stroke="#1f4f8a" stroke-width="1"/>
<line x1="401.7" y1="563.1" x2="401.7" y2="565.9" stroke="#1f4f8a" stroke-width="1"/>
<line x1="407.5" y1="563.1" x2="407.5" y2="565.9" stroke="#1f4f8a" stroke-width="1"/>
<line x1="472.3" y1="495.3" x2="479.1" y2="495.3" stroke="#1f4f8a" stroke-width="1.3"/>
<line x1="475.7" y1="493.8" x2="475.7" y2="496.8" stroke="#1f4f8a" stroke-width="0.9"/>
<text x="481.7" y="497.9" font-size="7.1" fill="#231f20" stroke="#231f20" stroke-width="0.2"><tspan font-style="italic">ASXL1</tspan><tspan font-size="4.7" dy="-2.9">wt</tspan></text>
<line x1="472.3" y1="504.2" x2="479.1" y2="504.2" stroke="#c8102e" stroke-width="1.3"/>
<line x1="475.7" y1="502.7" x2="475.7" y2="505.7" stroke="#c8102e" stroke-width="0.9"/>
<text x="481.7" y="506.8" font-size="7.1" fill="#231f20" stroke="#231f20" stroke-width="0.2"><tspan font-style="italic">ASXL1</tspan><tspan font-size="4.7" dy="-2.9">mut</tspan></text>
<text x="326.2" y="604.5" textLength="30.4" lengthAdjust="spacingAndGlyphs" font-size="7.7" fill="#231f20" stroke="#231f20" stroke-width="0.1"><tspan font-style="italic">P</tspan>=.3296</text>
<text x="313.8" y="648.8" font-size="6.8" fill="#231f20" textLength="41.2" lengthAdjust="spacingAndGlyphs" stroke="#231f20" stroke-width="0.1">Number at risk</text>
<text x="310.8" y="659.1" font-size="6.6" fill="#3868a6" stroke="#3868a6" stroke-width="0.1" text-anchor="end"><tspan font-style="italic">ASXL1</tspan><tspan font-size="4.6" dy="-3.2">wt</tspan></text>
<text x="322.5" y="659.1" font-size="6.6" fill="#231f20" text-anchor="middle" stroke="#231f20" stroke-width="0.12">14</text>
<text x="352.8" y="659.1" font-size="6.6" fill="#231f20" text-anchor="middle" stroke="#231f20" stroke-width="0.12">4</text>
<text x="383" y="659.1" font-size="6.6" fill="#231f20" text-anchor="middle" stroke="#231f20" stroke-width="0.12">3</text>
<text x="413.1" y="659.1" font-size="6.6" fill="#231f20" text-anchor="middle" stroke="#231f20" stroke-width="0.12">1</text>
<text x="443.2" y="659.1" font-size="6.6" fill="#231f20" text-anchor="middle" stroke="#231f20" stroke-width="0.12">1</text>
<text x="473.3" y="659.1" font-size="6.6" fill="#231f20" text-anchor="middle" stroke="#231f20" stroke-width="0.12">1</text>
<text x="504.4" y="659.1" font-size="6.6" fill="#231f20" text-anchor="middle" stroke="#231f20" stroke-width="0.12">1</text>
<text x="310.8" y="667.9" font-size="6.6" fill="#d23550" stroke="#d23550" stroke-width="0.1" text-anchor="end"><tspan font-style="italic">ASXL1</tspan><tspan font-size="4.6" dy="-3.2">mut</tspan></text>
<text x="322.5" y="667.9" font-size="6.6" fill="#231f20" text-anchor="middle" stroke="#231f20" stroke-width="0.12">24</text>
<text x="352.8" y="667.9" font-size="6.6" fill="#231f20" text-anchor="middle" stroke="#231f20" stroke-width="0.12">17</text>
<text x="383" y="667.9" font-size="6.6" fill="#231f20" text-anchor="middle" stroke="#231f20" stroke-width="0.12">9</text>
<text x="413.1" y="667.9" font-size="6.6" fill="#231f20" text-anchor="middle" stroke="#231f20" stroke-width="0.12">6</text>
<text x="443.2" y="667.9" font-size="6.6" fill="#231f20" text-anchor="middle" stroke="#231f20" stroke-width="0.12">2</text>
<text x="473.3" y="667.9" font-size="6.6" fill="#231f20" text-anchor="middle" stroke="#231f20" stroke-width="0.12">2</text>
<text x="504.4" y="667.9" font-size="6.6" fill="#231f20" text-anchor="middle" stroke="#231f20" stroke-width="0.12">0</text>
</svg>
</body></html>
